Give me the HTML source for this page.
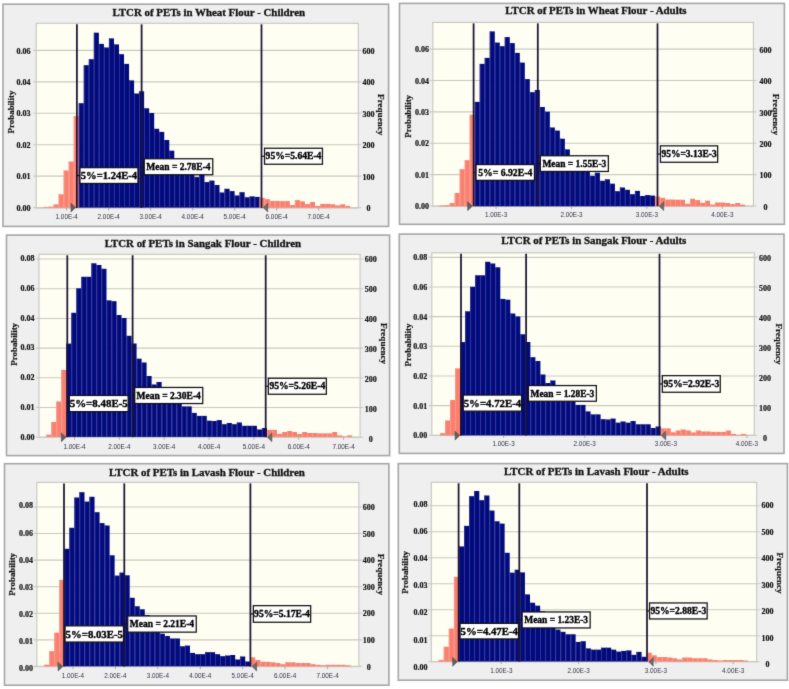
<!DOCTYPE html>
<html><head><meta charset="utf-8"><style>
html,body{margin:0;padding:0;background:#fff;width:789px;height:689px;overflow:hidden;font-family:"Liberation Sans",sans-serif;}
svg{display:block;}
#w{will-change:transform;width:789px;height:689px;}
</style></head><body><div id="w">
<svg width="789" height="689" viewBox="0 0 789 689">
<defs><filter id="bl" x="0" y="0" width="789" height="689" filterUnits="userSpaceOnUse" color-interpolation-filters="sRGB"><feConvolveMatrix order="3" kernelMatrix="0.0113 0.0838 0.0113 0.0838 0.6193 0.0838 0.0113 0.0838 0.0113" divisor="1" preserveAlpha="true" edgeMode="duplicate"/></filter></defs>
<g filter="url(#bl)">
<rect width="789" height="689" fill="#fff"/>
<rect x="3" y="4.2" width="385.6" height="222.2" fill="#efefef" stroke="#a6a6a6" stroke-width="1.6"/>
<text x="208.8" y="16.4" font-family="Liberation Serif" font-weight="bold" font-size="10.9" text-anchor="middle" fill="#111" stroke="#111" stroke-width="0.3">LTCR of PETs in Wheat Flour - Children</text>
<rect x="36.2" y="23.3" width="322.1" height="184.7" fill="#fefef2" stroke="#c6c6c2" stroke-width="1.1"/>
<line x1="33.2" y1="207.6" x2="361.3" y2="207.6" stroke="#c9c9bd" stroke-width="1.1"/>
<text x="30.4" y="210.7" font-family="Liberation Serif" font-weight="bold" font-size="8.0" text-anchor="end" fill="#151515" stroke="#151515" stroke-width="0.2">0.00</text>
<text x="368.6" y="211" font-family="Liberation Serif" font-weight="bold" font-size="8.0" text-anchor="middle" fill="#151515" stroke="#151515" stroke-width="0.2">0</text>
<line x1="33.2" y1="176.16" x2="361.3" y2="176.16" stroke="#c9c9bd" stroke-width="1.1"/>
<text x="30.4" y="179.26" font-family="Liberation Serif" font-weight="bold" font-size="8.0" text-anchor="end" fill="#151515" stroke="#151515" stroke-width="0.2">0.01</text>
<text x="368.6" y="179.56" font-family="Liberation Serif" font-weight="bold" font-size="8.0" text-anchor="middle" fill="#151515" stroke="#151515" stroke-width="0.2">100</text>
<line x1="33.2" y1="144.72" x2="361.3" y2="144.72" stroke="#c9c9bd" stroke-width="1.1"/>
<text x="30.4" y="147.82" font-family="Liberation Serif" font-weight="bold" font-size="8.0" text-anchor="end" fill="#151515" stroke="#151515" stroke-width="0.2">0.02</text>
<text x="368.6" y="148.12" font-family="Liberation Serif" font-weight="bold" font-size="8.0" text-anchor="middle" fill="#151515" stroke="#151515" stroke-width="0.2">200</text>
<line x1="33.2" y1="113.28" x2="361.3" y2="113.28" stroke="#c9c9bd" stroke-width="1.1"/>
<text x="30.4" y="116.38" font-family="Liberation Serif" font-weight="bold" font-size="8.0" text-anchor="end" fill="#151515" stroke="#151515" stroke-width="0.2">0.03</text>
<text x="368.6" y="116.68" font-family="Liberation Serif" font-weight="bold" font-size="8.0" text-anchor="middle" fill="#151515" stroke="#151515" stroke-width="0.2">300</text>
<line x1="33.2" y1="81.84" x2="361.3" y2="81.84" stroke="#c9c9bd" stroke-width="1.1"/>
<text x="30.4" y="84.94" font-family="Liberation Serif" font-weight="bold" font-size="8.0" text-anchor="end" fill="#151515" stroke="#151515" stroke-width="0.2">0.04</text>
<text x="368.6" y="85.24" font-family="Liberation Serif" font-weight="bold" font-size="8.0" text-anchor="middle" fill="#151515" stroke="#151515" stroke-width="0.2">400</text>
<line x1="33.2" y1="50.4" x2="361.3" y2="50.4" stroke="#c9c9bd" stroke-width="1.1"/>
<text x="30.4" y="53.5" font-family="Liberation Serif" font-weight="bold" font-size="8.0" text-anchor="end" fill="#151515" stroke="#151515" stroke-width="0.2">0.06</text>
<text x="368.6" y="53.8" font-family="Liberation Serif" font-weight="bold" font-size="8.0" text-anchor="middle" fill="#151515" stroke="#151515" stroke-width="0.2">600</text>
<text transform="translate(10.6,112) rotate(-90)" x="0" y="2.94" font-family="Liberation Serif" font-weight="bold" font-size="8.9" text-anchor="middle" fill="#151515" stroke="#151515" stroke-width="0.2">Probability</text>
<text transform="translate(380.9,114.7) rotate(90)" x="0" y="3" font-family="Liberation Serif" font-weight="bold" font-size="9.1" text-anchor="middle" fill="#151515" stroke="#151515" stroke-width="0.2">Frequency</text>
<rect x="43.6" y="206.9" width="5.03" height="0.7" fill="#fa7f6f"/>
<rect x="43.6" y="206.9" width="0.9" height="0.7" fill="#fb9a8a"/>
<rect x="48.63" y="206.6" width="5.03" height="1" fill="#fa7f6f"/>
<rect x="48.63" y="206.6" width="0.9" height="1" fill="#fb9a8a"/>
<rect x="53.65" y="204.4" width="5.03" height="3.2" fill="#fa7f6f"/>
<rect x="53.65" y="204.4" width="0.9" height="3.2" fill="#fb9a8a"/>
<rect x="58.68" y="194.3" width="5.03" height="13.3" fill="#fa7f6f"/>
<rect x="58.68" y="194.3" width="0.9" height="13.3" fill="#fb9a8a"/>
<rect x="63.7" y="170.5" width="5.03" height="37.1" fill="#fa7f6f"/>
<rect x="63.7" y="170.5" width="0.9" height="37.1" fill="#fb9a8a"/>
<rect x="68.73" y="161.5" width="5.03" height="46.1" fill="#fa7f6f"/>
<rect x="68.73" y="161.5" width="0.9" height="46.1" fill="#fb9a8a"/>
<rect x="73.76" y="116" width="5.03" height="91.6" fill="#fa7f6f"/>
<rect x="73.76" y="116" width="0.9" height="91.6" fill="#fb9a8a"/>
<rect x="78.78" y="103.2" width="5.03" height="104.4" fill="#000c7c"/>
<rect x="78.78" y="103.2" width="0.9" height="104.4" fill="#3a2e9e"/>
<rect x="83.81" y="65.2" width="5.03" height="142.4" fill="#000c7c"/>
<rect x="83.81" y="65.2" width="0.9" height="142.4" fill="#3a2e9e"/>
<rect x="88.83" y="59.2" width="5.03" height="148.4" fill="#000c7c"/>
<rect x="88.83" y="59.2" width="0.9" height="148.4" fill="#3a2e9e"/>
<rect x="93.86" y="32.7" width="5.03" height="174.9" fill="#000c7c"/>
<rect x="93.86" y="32.7" width="0.9" height="174.9" fill="#3a2e9e"/>
<rect x="98.89" y="43.9" width="5.03" height="163.7" fill="#000c7c"/>
<rect x="98.89" y="43.9" width="0.9" height="163.7" fill="#3a2e9e"/>
<rect x="103.91" y="47.5" width="5.03" height="160.1" fill="#000c7c"/>
<rect x="103.91" y="47.5" width="0.9" height="160.1" fill="#3a2e9e"/>
<rect x="108.94" y="38.4" width="5.03" height="169.2" fill="#000c7c"/>
<rect x="108.94" y="38.4" width="0.9" height="169.2" fill="#3a2e9e"/>
<rect x="113.96" y="44.4" width="5.03" height="163.2" fill="#000c7c"/>
<rect x="113.96" y="44.4" width="0.9" height="163.2" fill="#3a2e9e"/>
<rect x="118.99" y="54.2" width="5.03" height="153.4" fill="#000c7c"/>
<rect x="118.99" y="54.2" width="0.9" height="153.4" fill="#3a2e9e"/>
<rect x="124.02" y="63.9" width="5.03" height="143.7" fill="#000c7c"/>
<rect x="124.02" y="63.9" width="0.9" height="143.7" fill="#3a2e9e"/>
<rect x="129.04" y="80.4" width="5.03" height="127.2" fill="#000c7c"/>
<rect x="129.04" y="80.4" width="0.9" height="127.2" fill="#3a2e9e"/>
<rect x="134.07" y="93.5" width="5.03" height="114.1" fill="#000c7c"/>
<rect x="134.07" y="93.5" width="0.9" height="114.1" fill="#3a2e9e"/>
<rect x="139.09" y="91.3" width="5.03" height="116.3" fill="#000c7c"/>
<rect x="139.09" y="91.3" width="0.9" height="116.3" fill="#3a2e9e"/>
<rect x="144.12" y="108.3" width="5.03" height="99.3" fill="#000c7c"/>
<rect x="144.12" y="108.3" width="0.9" height="99.3" fill="#3a2e9e"/>
<rect x="149.15" y="113" width="5.03" height="94.6" fill="#000c7c"/>
<rect x="149.15" y="113" width="0.9" height="94.6" fill="#3a2e9e"/>
<rect x="154.17" y="128.8" width="5.03" height="78.8" fill="#000c7c"/>
<rect x="154.17" y="128.8" width="0.9" height="78.8" fill="#3a2e9e"/>
<rect x="159.2" y="131.9" width="5.03" height="75.7" fill="#000c7c"/>
<rect x="159.2" y="131.9" width="0.9" height="75.7" fill="#3a2e9e"/>
<rect x="164.22" y="140" width="5.03" height="67.6" fill="#000c7c"/>
<rect x="164.22" y="140" width="0.9" height="67.6" fill="#3a2e9e"/>
<rect x="169.25" y="150.7" width="5.03" height="56.9" fill="#000c7c"/>
<rect x="169.25" y="150.7" width="0.9" height="56.9" fill="#3a2e9e"/>
<rect x="174.28" y="160" width="5.03" height="47.6" fill="#000c7c"/>
<rect x="174.28" y="160" width="0.9" height="47.6" fill="#3a2e9e"/>
<rect x="179.3" y="163" width="5.03" height="44.6" fill="#000c7c"/>
<rect x="179.3" y="163" width="0.9" height="44.6" fill="#3a2e9e"/>
<rect x="184.33" y="166" width="5.03" height="41.6" fill="#000c7c"/>
<rect x="184.33" y="166" width="0.9" height="41.6" fill="#3a2e9e"/>
<rect x="189.35" y="170" width="5.03" height="37.6" fill="#000c7c"/>
<rect x="189.35" y="170" width="0.9" height="37.6" fill="#3a2e9e"/>
<rect x="194.38" y="177.1" width="5.03" height="30.5" fill="#000c7c"/>
<rect x="194.38" y="177.1" width="0.9" height="30.5" fill="#3a2e9e"/>
<rect x="199.41" y="174" width="5.03" height="33.6" fill="#000c7c"/>
<rect x="199.41" y="174" width="0.9" height="33.6" fill="#3a2e9e"/>
<rect x="204.43" y="182.1" width="5.03" height="25.5" fill="#000c7c"/>
<rect x="204.43" y="182.1" width="0.9" height="25.5" fill="#3a2e9e"/>
<rect x="209.46" y="180.6" width="5.03" height="27" fill="#000c7c"/>
<rect x="209.46" y="180.6" width="0.9" height="27" fill="#3a2e9e"/>
<rect x="214.48" y="185" width="5.03" height="22.6" fill="#000c7c"/>
<rect x="214.48" y="185" width="0.9" height="22.6" fill="#3a2e9e"/>
<rect x="219.51" y="192.5" width="5.03" height="15.1" fill="#000c7c"/>
<rect x="219.51" y="192.5" width="0.9" height="15.1" fill="#3a2e9e"/>
<rect x="224.54" y="188.8" width="5.03" height="18.8" fill="#000c7c"/>
<rect x="224.54" y="188.8" width="0.9" height="18.8" fill="#3a2e9e"/>
<rect x="229.56" y="191.1" width="5.03" height="16.5" fill="#000c7c"/>
<rect x="229.56" y="191.1" width="0.9" height="16.5" fill="#3a2e9e"/>
<rect x="234.59" y="195.5" width="5.03" height="12.1" fill="#000c7c"/>
<rect x="234.59" y="195.5" width="0.9" height="12.1" fill="#3a2e9e"/>
<rect x="239.61" y="192.2" width="5.03" height="15.4" fill="#000c7c"/>
<rect x="239.61" y="192.2" width="0.9" height="15.4" fill="#3a2e9e"/>
<rect x="244.64" y="197.3" width="5.03" height="10.3" fill="#000c7c"/>
<rect x="244.64" y="197.3" width="0.9" height="10.3" fill="#3a2e9e"/>
<rect x="249.67" y="196.4" width="5.03" height="11.2" fill="#000c7c"/>
<rect x="249.67" y="196.4" width="0.9" height="11.2" fill="#3a2e9e"/>
<rect x="254.69" y="196.9" width="5.03" height="10.7" fill="#000c7c"/>
<rect x="254.69" y="196.9" width="0.9" height="10.7" fill="#3a2e9e"/>
<rect x="259.72" y="197.9" width="5.03" height="9.7" fill="#fa7f6f"/>
<rect x="259.72" y="197.9" width="0.9" height="9.7" fill="#fb9a8a"/>
<rect x="264.74" y="199.1" width="5.03" height="8.5" fill="#fa7f6f"/>
<rect x="264.74" y="199.1" width="0.9" height="8.5" fill="#fb9a8a"/>
<rect x="269.77" y="200.9" width="5.03" height="6.7" fill="#fa7f6f"/>
<rect x="269.77" y="200.9" width="0.9" height="6.7" fill="#fb9a8a"/>
<rect x="274.8" y="200.9" width="5.03" height="6.7" fill="#fa7f6f"/>
<rect x="274.8" y="200.9" width="0.9" height="6.7" fill="#fb9a8a"/>
<rect x="279.82" y="201.1" width="5.03" height="6.5" fill="#fa7f6f"/>
<rect x="279.82" y="201.1" width="0.9" height="6.5" fill="#fb9a8a"/>
<rect x="284.85" y="201.1" width="5.03" height="6.5" fill="#fa7f6f"/>
<rect x="284.85" y="201.1" width="0.9" height="6.5" fill="#fb9a8a"/>
<rect x="289.87" y="205" width="5.03" height="2.6" fill="#fa7f6f"/>
<rect x="289.87" y="205" width="0.9" height="2.6" fill="#fb9a8a"/>
<rect x="294.9" y="200.1" width="5.03" height="7.5" fill="#fa7f6f"/>
<rect x="294.9" y="200.1" width="0.9" height="7.5" fill="#fb9a8a"/>
<rect x="299.93" y="201.4" width="5.03" height="6.2" fill="#fa7f6f"/>
<rect x="299.93" y="201.4" width="0.9" height="6.2" fill="#fb9a8a"/>
<rect x="304.95" y="204.1" width="5.03" height="3.5" fill="#fa7f6f"/>
<rect x="304.95" y="204.1" width="0.9" height="3.5" fill="#fb9a8a"/>
<rect x="309.98" y="202" width="5.03" height="5.6" fill="#fa7f6f"/>
<rect x="309.98" y="202" width="0.9" height="5.6" fill="#fb9a8a"/>
<rect x="315" y="205.9" width="5.03" height="1.7" fill="#fa7f6f"/>
<rect x="315" y="205.9" width="0.9" height="1.7" fill="#fb9a8a"/>
<rect x="320.03" y="203.9" width="5.03" height="3.7" fill="#fa7f6f"/>
<rect x="320.03" y="203.9" width="0.9" height="3.7" fill="#fb9a8a"/>
<rect x="325.06" y="203.9" width="5.03" height="3.7" fill="#fa7f6f"/>
<rect x="325.06" y="203.9" width="0.9" height="3.7" fill="#fb9a8a"/>
<rect x="330.08" y="204.3" width="5.03" height="3.3" fill="#fa7f6f"/>
<rect x="330.08" y="204.3" width="0.9" height="3.3" fill="#fb9a8a"/>
<rect x="335.11" y="205.4" width="5.03" height="2.2" fill="#fa7f6f"/>
<rect x="335.11" y="205.4" width="0.9" height="2.2" fill="#fb9a8a"/>
<rect x="340.13" y="204.3" width="5.03" height="3.3" fill="#fa7f6f"/>
<rect x="340.13" y="204.3" width="0.9" height="3.3" fill="#fb9a8a"/>
<rect x="345.16" y="205.9" width="5.03" height="1.7" fill="#fa7f6f"/>
<rect x="345.16" y="205.9" width="0.9" height="1.7" fill="#fb9a8a"/>
<line x1="66.7" y1="208" x2="66.7" y2="210.5" stroke="#999" stroke-width="0.8"/>
<text x="66.7" y="218.6" font-family="Liberation Sans" font-size="6.35" text-anchor="middle" fill="#34344c">1.00E-4</text>
<line x1="108.7" y1="208" x2="108.7" y2="210.5" stroke="#999" stroke-width="0.8"/>
<text x="108.7" y="218.6" font-family="Liberation Sans" font-size="6.35" text-anchor="middle" fill="#34344c">2.00E-4</text>
<line x1="150.7" y1="208" x2="150.7" y2="210.5" stroke="#999" stroke-width="0.8"/>
<text x="150.7" y="218.6" font-family="Liberation Sans" font-size="6.35" text-anchor="middle" fill="#34344c">3.00E-4</text>
<line x1="192.7" y1="208" x2="192.7" y2="210.5" stroke="#999" stroke-width="0.8"/>
<text x="192.7" y="218.6" font-family="Liberation Sans" font-size="6.35" text-anchor="middle" fill="#34344c">4.00E-4</text>
<line x1="234.7" y1="208" x2="234.7" y2="210.5" stroke="#999" stroke-width="0.8"/>
<text x="234.7" y="218.6" font-family="Liberation Sans" font-size="6.35" text-anchor="middle" fill="#34344c">5.00E-4</text>
<line x1="276.7" y1="208" x2="276.7" y2="210.5" stroke="#999" stroke-width="0.8"/>
<text x="276.7" y="218.6" font-family="Liberation Sans" font-size="6.35" text-anchor="middle" fill="#34344c">6.00E-4</text>
<line x1="318.7" y1="208" x2="318.7" y2="210.5" stroke="#999" stroke-width="0.8"/>
<text x="318.7" y="218.6" font-family="Liberation Sans" font-size="6.35" text-anchor="middle" fill="#34344c">7.00E-4</text>
<line x1="76.9" y1="24.3" x2="76.9" y2="208" stroke="#1c1434" stroke-width="1.75"/>
<line x1="141.6" y1="24.3" x2="141.6" y2="208" stroke="#1c1434" stroke-width="1.75"/>
<line x1="261.5" y1="24.3" x2="261.5" y2="208" stroke="#1c1434" stroke-width="1.75"/>
<path d="M71,203.25 L75.6,207.6 L71,211.95 Z" fill="#5e6266" stroke="#3c3f42" stroke-width="0.5"/>
<path d="M267.7,203.25 L263.3,207.6 L267.7,211.95 Z" fill="#6a6e72" stroke="#3c3f42" stroke-width="0.5"/>
<rect x="79.95" y="167.65" width="58" height="15.8" fill="#fff" stroke="#111" stroke-width="1.25"/>
<line x1="76.9" y1="175.55" x2="79.7" y2="175.55" stroke="#111" stroke-width="1.2"/>
<text x="108.95" y="179.05" font-family="Liberation Serif" font-weight="bold" font-size="10.6" text-anchor="middle" fill="#000" stroke="#000" stroke-width="0.35">5%=1.24E-4</text>
<rect x="144.25" y="158.75" width="68.5" height="16" fill="#fff" stroke="#111" stroke-width="1.25"/>
<line x1="141.6" y1="166.75" x2="144" y2="166.75" stroke="#111" stroke-width="1.2"/>
<text x="178.5" y="169.88" font-family="Liberation Serif" font-weight="bold" font-size="9.5" text-anchor="middle" fill="#000" stroke="#000" stroke-width="0.35">Mean = 2.78E-4</text>
<rect x="264.55" y="148.25" width="57.9" height="16" fill="#fff" stroke="#111" stroke-width="1.25"/>
<line x1="261.5" y1="156.25" x2="264.3" y2="156.25" stroke="#111" stroke-width="1.2"/>
<text x="293.5" y="159.42" font-family="Liberation Serif" font-weight="bold" font-size="9.6" text-anchor="middle" fill="#000" stroke="#000" stroke-width="0.35">95%=5.64E-4</text>
<rect x="399.5" y="3.4" width="384.9" height="220.9" fill="#efefef" stroke="#a6a6a6" stroke-width="1.6"/>
<text x="595.9" y="13.9" font-family="Liberation Serif" font-weight="bold" font-size="10.9" text-anchor="middle" fill="#111" stroke="#111" stroke-width="0.3">LTCR of PETs in Wheat Flour - Adults</text>
<rect x="432.8" y="22.4" width="320.6" height="183.8" fill="#fefef2" stroke="#c6c6c2" stroke-width="1.1"/>
<line x1="429.8" y1="205.95" x2="756.4" y2="205.95" stroke="#c9c9bd" stroke-width="1.1"/>
<text x="428.9" y="209.05" font-family="Liberation Serif" font-weight="bold" font-size="8.0" text-anchor="end" fill="#151515" stroke="#151515" stroke-width="0.2">0.00</text>
<text x="765.5" y="209.65" font-family="Liberation Serif" font-weight="bold" font-size="8.0" text-anchor="middle" fill="#151515" stroke="#151515" stroke-width="0.2">0</text>
<line x1="429.8" y1="174.58" x2="756.4" y2="174.58" stroke="#c9c9bd" stroke-width="1.1"/>
<text x="428.9" y="177.68" font-family="Liberation Serif" font-weight="bold" font-size="8.0" text-anchor="end" fill="#151515" stroke="#151515" stroke-width="0.2">0.01</text>
<text x="765.5" y="178.28" font-family="Liberation Serif" font-weight="bold" font-size="8.0" text-anchor="middle" fill="#151515" stroke="#151515" stroke-width="0.2">100</text>
<line x1="429.8" y1="143.21" x2="756.4" y2="143.21" stroke="#c9c9bd" stroke-width="1.1"/>
<text x="428.9" y="146.31" font-family="Liberation Serif" font-weight="bold" font-size="8.0" text-anchor="end" fill="#151515" stroke="#151515" stroke-width="0.2">0.02</text>
<text x="765.5" y="146.91" font-family="Liberation Serif" font-weight="bold" font-size="8.0" text-anchor="middle" fill="#151515" stroke="#151515" stroke-width="0.2">200</text>
<line x1="429.8" y1="111.84" x2="756.4" y2="111.84" stroke="#c9c9bd" stroke-width="1.1"/>
<text x="428.9" y="114.94" font-family="Liberation Serif" font-weight="bold" font-size="8.0" text-anchor="end" fill="#151515" stroke="#151515" stroke-width="0.2">0.03</text>
<text x="765.5" y="115.54" font-family="Liberation Serif" font-weight="bold" font-size="8.0" text-anchor="middle" fill="#151515" stroke="#151515" stroke-width="0.2">300</text>
<line x1="429.8" y1="80.47" x2="756.4" y2="80.47" stroke="#c9c9bd" stroke-width="1.1"/>
<text x="428.9" y="83.57" font-family="Liberation Serif" font-weight="bold" font-size="8.0" text-anchor="end" fill="#151515" stroke="#151515" stroke-width="0.2">0.04</text>
<text x="765.5" y="84.17" font-family="Liberation Serif" font-weight="bold" font-size="8.0" text-anchor="middle" fill="#151515" stroke="#151515" stroke-width="0.2">400</text>
<line x1="429.8" y1="49.1" x2="756.4" y2="49.1" stroke="#c9c9bd" stroke-width="1.1"/>
<text x="428.9" y="52.2" font-family="Liberation Serif" font-weight="bold" font-size="8.0" text-anchor="end" fill="#151515" stroke="#151515" stroke-width="0.2">0.06</text>
<text x="765.5" y="52.8" font-family="Liberation Serif" font-weight="bold" font-size="8.0" text-anchor="middle" fill="#151515" stroke="#151515" stroke-width="0.2">600</text>
<text transform="translate(408.4,116.3) rotate(-90)" x="0" y="2.94" font-family="Liberation Serif" font-weight="bold" font-size="8.9" text-anchor="middle" fill="#151515" stroke="#151515" stroke-width="0.2">Probability</text>
<text transform="translate(776.3,114.3) rotate(90)" x="0" y="3" font-family="Liberation Serif" font-weight="bold" font-size="9.1" text-anchor="middle" fill="#151515" stroke="#151515" stroke-width="0.2">Frequency</text>
<rect x="439.7" y="205.6" width="5.01" height="0.7" fill="#fa7f6f"/>
<rect x="439.7" y="205.6" width="0.9" height="0.7" fill="#fb9a8a"/>
<rect x="444.71" y="205.3" width="5.01" height="1" fill="#fa7f6f"/>
<rect x="444.71" y="205.3" width="0.9" height="1" fill="#fb9a8a"/>
<rect x="449.71" y="203.1" width="5.01" height="3.2" fill="#fa7f6f"/>
<rect x="449.71" y="203.1" width="0.9" height="3.2" fill="#fb9a8a"/>
<rect x="454.72" y="193" width="5.01" height="13.3" fill="#fa7f6f"/>
<rect x="454.72" y="193" width="0.9" height="13.3" fill="#fb9a8a"/>
<rect x="459.72" y="169.2" width="5.01" height="37.1" fill="#fa7f6f"/>
<rect x="459.72" y="169.2" width="0.9" height="37.1" fill="#fb9a8a"/>
<rect x="464.73" y="160.2" width="5.01" height="46.1" fill="#fa7f6f"/>
<rect x="464.73" y="160.2" width="0.9" height="46.1" fill="#fb9a8a"/>
<rect x="469.74" y="114.7" width="5.01" height="91.6" fill="#fa7f6f"/>
<rect x="469.74" y="114.7" width="0.9" height="91.6" fill="#fb9a8a"/>
<rect x="474.74" y="101.9" width="5.01" height="104.4" fill="#000c7c"/>
<rect x="474.74" y="101.9" width="0.9" height="104.4" fill="#3a2e9e"/>
<rect x="479.75" y="63.9" width="5.01" height="142.4" fill="#000c7c"/>
<rect x="479.75" y="63.9" width="0.9" height="142.4" fill="#3a2e9e"/>
<rect x="484.75" y="57.9" width="5.01" height="148.4" fill="#000c7c"/>
<rect x="484.75" y="57.9" width="0.9" height="148.4" fill="#3a2e9e"/>
<rect x="489.76" y="31.4" width="5.01" height="174.9" fill="#000c7c"/>
<rect x="489.76" y="31.4" width="0.9" height="174.9" fill="#3a2e9e"/>
<rect x="494.77" y="42.6" width="5.01" height="163.7" fill="#000c7c"/>
<rect x="494.77" y="42.6" width="0.9" height="163.7" fill="#3a2e9e"/>
<rect x="499.77" y="46.2" width="5.01" height="160.1" fill="#000c7c"/>
<rect x="499.77" y="46.2" width="0.9" height="160.1" fill="#3a2e9e"/>
<rect x="504.78" y="37.1" width="5.01" height="169.2" fill="#000c7c"/>
<rect x="504.78" y="37.1" width="0.9" height="169.2" fill="#3a2e9e"/>
<rect x="509.78" y="43.1" width="5.01" height="163.2" fill="#000c7c"/>
<rect x="509.78" y="43.1" width="0.9" height="163.2" fill="#3a2e9e"/>
<rect x="514.79" y="52.9" width="5.01" height="153.4" fill="#000c7c"/>
<rect x="514.79" y="52.9" width="0.9" height="153.4" fill="#3a2e9e"/>
<rect x="519.8" y="62.6" width="5.01" height="143.7" fill="#000c7c"/>
<rect x="519.8" y="62.6" width="0.9" height="143.7" fill="#3a2e9e"/>
<rect x="524.8" y="79.1" width="5.01" height="127.2" fill="#000c7c"/>
<rect x="524.8" y="79.1" width="0.9" height="127.2" fill="#3a2e9e"/>
<rect x="529.81" y="92.2" width="5.01" height="114.1" fill="#000c7c"/>
<rect x="529.81" y="92.2" width="0.9" height="114.1" fill="#3a2e9e"/>
<rect x="534.81" y="90" width="5.01" height="116.3" fill="#000c7c"/>
<rect x="534.81" y="90" width="0.9" height="116.3" fill="#3a2e9e"/>
<rect x="539.82" y="107" width="5.01" height="99.3" fill="#000c7c"/>
<rect x="539.82" y="107" width="0.9" height="99.3" fill="#3a2e9e"/>
<rect x="544.83" y="111.7" width="5.01" height="94.6" fill="#000c7c"/>
<rect x="544.83" y="111.7" width="0.9" height="94.6" fill="#3a2e9e"/>
<rect x="549.83" y="127.5" width="5.01" height="78.8" fill="#000c7c"/>
<rect x="549.83" y="127.5" width="0.9" height="78.8" fill="#3a2e9e"/>
<rect x="554.84" y="130.6" width="5.01" height="75.7" fill="#000c7c"/>
<rect x="554.84" y="130.6" width="0.9" height="75.7" fill="#3a2e9e"/>
<rect x="559.84" y="138.7" width="5.01" height="67.6" fill="#000c7c"/>
<rect x="559.84" y="138.7" width="0.9" height="67.6" fill="#3a2e9e"/>
<rect x="564.85" y="149.4" width="5.01" height="56.9" fill="#000c7c"/>
<rect x="564.85" y="149.4" width="0.9" height="56.9" fill="#3a2e9e"/>
<rect x="569.86" y="158.7" width="5.01" height="47.6" fill="#000c7c"/>
<rect x="569.86" y="158.7" width="0.9" height="47.6" fill="#3a2e9e"/>
<rect x="574.86" y="161.7" width="5.01" height="44.6" fill="#000c7c"/>
<rect x="574.86" y="161.7" width="0.9" height="44.6" fill="#3a2e9e"/>
<rect x="579.87" y="164.7" width="5.01" height="41.6" fill="#000c7c"/>
<rect x="579.87" y="164.7" width="0.9" height="41.6" fill="#3a2e9e"/>
<rect x="584.87" y="168.7" width="5.01" height="37.6" fill="#000c7c"/>
<rect x="584.87" y="168.7" width="0.9" height="37.6" fill="#3a2e9e"/>
<rect x="589.88" y="175.8" width="5.01" height="30.5" fill="#000c7c"/>
<rect x="589.88" y="175.8" width="0.9" height="30.5" fill="#3a2e9e"/>
<rect x="594.89" y="172.7" width="5.01" height="33.6" fill="#000c7c"/>
<rect x="594.89" y="172.7" width="0.9" height="33.6" fill="#3a2e9e"/>
<rect x="599.89" y="180.8" width="5.01" height="25.5" fill="#000c7c"/>
<rect x="599.89" y="180.8" width="0.9" height="25.5" fill="#3a2e9e"/>
<rect x="604.9" y="179.3" width="5.01" height="27" fill="#000c7c"/>
<rect x="604.9" y="179.3" width="0.9" height="27" fill="#3a2e9e"/>
<rect x="609.9" y="183.7" width="5.01" height="22.6" fill="#000c7c"/>
<rect x="609.9" y="183.7" width="0.9" height="22.6" fill="#3a2e9e"/>
<rect x="614.91" y="191.2" width="5.01" height="15.1" fill="#000c7c"/>
<rect x="614.91" y="191.2" width="0.9" height="15.1" fill="#3a2e9e"/>
<rect x="619.92" y="187.5" width="5.01" height="18.8" fill="#000c7c"/>
<rect x="619.92" y="187.5" width="0.9" height="18.8" fill="#3a2e9e"/>
<rect x="624.92" y="189.8" width="5.01" height="16.5" fill="#000c7c"/>
<rect x="624.92" y="189.8" width="0.9" height="16.5" fill="#3a2e9e"/>
<rect x="629.93" y="194.2" width="5.01" height="12.1" fill="#000c7c"/>
<rect x="629.93" y="194.2" width="0.9" height="12.1" fill="#3a2e9e"/>
<rect x="634.93" y="190.9" width="5.01" height="15.4" fill="#000c7c"/>
<rect x="634.93" y="190.9" width="0.9" height="15.4" fill="#3a2e9e"/>
<rect x="639.94" y="196" width="5.01" height="10.3" fill="#000c7c"/>
<rect x="639.94" y="196" width="0.9" height="10.3" fill="#3a2e9e"/>
<rect x="644.95" y="195.1" width="5.01" height="11.2" fill="#000c7c"/>
<rect x="644.95" y="195.1" width="0.9" height="11.2" fill="#3a2e9e"/>
<rect x="649.95" y="195.6" width="5.01" height="10.7" fill="#000c7c"/>
<rect x="649.95" y="195.6" width="0.9" height="10.7" fill="#3a2e9e"/>
<rect x="654.96" y="196.6" width="5.01" height="9.7" fill="#fa7f6f"/>
<rect x="654.96" y="196.6" width="0.9" height="9.7" fill="#fb9a8a"/>
<rect x="659.96" y="197.8" width="5.01" height="8.5" fill="#fa7f6f"/>
<rect x="659.96" y="197.8" width="0.9" height="8.5" fill="#fb9a8a"/>
<rect x="664.97" y="199.6" width="5.01" height="6.7" fill="#fa7f6f"/>
<rect x="664.97" y="199.6" width="0.9" height="6.7" fill="#fb9a8a"/>
<rect x="669.98" y="199.6" width="5.01" height="6.7" fill="#fa7f6f"/>
<rect x="669.98" y="199.6" width="0.9" height="6.7" fill="#fb9a8a"/>
<rect x="674.98" y="199.8" width="5.01" height="6.5" fill="#fa7f6f"/>
<rect x="674.98" y="199.8" width="0.9" height="6.5" fill="#fb9a8a"/>
<rect x="679.99" y="199.8" width="5.01" height="6.5" fill="#fa7f6f"/>
<rect x="679.99" y="199.8" width="0.9" height="6.5" fill="#fb9a8a"/>
<rect x="684.99" y="203.7" width="5.01" height="2.6" fill="#fa7f6f"/>
<rect x="684.99" y="203.7" width="0.9" height="2.6" fill="#fb9a8a"/>
<rect x="690" y="198.8" width="5.01" height="7.5" fill="#fa7f6f"/>
<rect x="690" y="198.8" width="0.9" height="7.5" fill="#fb9a8a"/>
<rect x="695.01" y="200.1" width="5.01" height="6.2" fill="#fa7f6f"/>
<rect x="695.01" y="200.1" width="0.9" height="6.2" fill="#fb9a8a"/>
<rect x="700.01" y="202.8" width="5.01" height="3.5" fill="#fa7f6f"/>
<rect x="700.01" y="202.8" width="0.9" height="3.5" fill="#fb9a8a"/>
<rect x="705.02" y="200.7" width="5.01" height="5.6" fill="#fa7f6f"/>
<rect x="705.02" y="200.7" width="0.9" height="5.6" fill="#fb9a8a"/>
<rect x="710.02" y="204.6" width="5.01" height="1.7" fill="#fa7f6f"/>
<rect x="710.02" y="204.6" width="0.9" height="1.7" fill="#fb9a8a"/>
<rect x="715.03" y="202.6" width="5.01" height="3.7" fill="#fa7f6f"/>
<rect x="715.03" y="202.6" width="0.9" height="3.7" fill="#fb9a8a"/>
<rect x="720.04" y="202.6" width="5.01" height="3.7" fill="#fa7f6f"/>
<rect x="720.04" y="202.6" width="0.9" height="3.7" fill="#fb9a8a"/>
<rect x="725.04" y="203" width="5.01" height="3.3" fill="#fa7f6f"/>
<rect x="725.04" y="203" width="0.9" height="3.3" fill="#fb9a8a"/>
<rect x="730.05" y="204.1" width="5.01" height="2.2" fill="#fa7f6f"/>
<rect x="730.05" y="204.1" width="0.9" height="2.2" fill="#fb9a8a"/>
<rect x="735.05" y="203" width="5.01" height="3.3" fill="#fa7f6f"/>
<rect x="735.05" y="203" width="0.9" height="3.3" fill="#fb9a8a"/>
<rect x="740.06" y="204.6" width="5.01" height="1.7" fill="#fa7f6f"/>
<rect x="740.06" y="204.6" width="0.9" height="1.7" fill="#fb9a8a"/>
<line x1="496.1" y1="206.2" x2="496.1" y2="208.7" stroke="#999" stroke-width="0.8"/>
<text x="496.1" y="217.4" font-family="Liberation Sans" font-size="6.35" text-anchor="middle" fill="#34344c">1.00E-3</text>
<line x1="571.5" y1="206.2" x2="571.5" y2="208.7" stroke="#999" stroke-width="0.8"/>
<text x="571.5" y="217.4" font-family="Liberation Sans" font-size="6.35" text-anchor="middle" fill="#34344c">2.00E-3</text>
<line x1="646.9" y1="206.2" x2="646.9" y2="208.7" stroke="#999" stroke-width="0.8"/>
<text x="646.9" y="217.4" font-family="Liberation Sans" font-size="6.35" text-anchor="middle" fill="#34344c">3.00E-3</text>
<line x1="722.3" y1="206.2" x2="722.3" y2="208.7" stroke="#999" stroke-width="0.8"/>
<text x="722.3" y="217.4" font-family="Liberation Sans" font-size="6.35" text-anchor="middle" fill="#34344c">4.00E-3</text>
<line x1="473.6" y1="23.4" x2="473.6" y2="206.2" stroke="#1c1434" stroke-width="1.75"/>
<line x1="537.8" y1="23.4" x2="537.8" y2="206.2" stroke="#1c1434" stroke-width="1.75"/>
<line x1="657.5" y1="23.4" x2="657.5" y2="206.2" stroke="#1c1434" stroke-width="1.75"/>
<path d="M467.7,201.85 L472.3,206.2 L467.7,210.55 Z" fill="#5e6266" stroke="#3c3f42" stroke-width="0.5"/>
<path d="M663.7,201.85 L659.3,206.2 L663.7,210.55 Z" fill="#6a6e72" stroke="#3c3f42" stroke-width="0.5"/>
<rect x="476.05" y="164.55" width="58.4" height="15.8" fill="#fff" stroke="#111" stroke-width="1.25"/>
<line x1="473.6" y1="172.45" x2="475.8" y2="172.45" stroke="#111" stroke-width="1.2"/>
<text x="505.25" y="175.65" font-family="Liberation Serif" font-weight="bold" font-size="9.7" text-anchor="middle" fill="#000" stroke="#000" stroke-width="0.35">5%= 6.92E-4</text>
<rect x="540.35" y="155.75" width="68" height="15.7" fill="#fff" stroke="#111" stroke-width="1.25"/>
<line x1="537.8" y1="163.6" x2="540.1" y2="163.6" stroke="#111" stroke-width="1.2"/>
<text x="574.35" y="166.72" font-family="Liberation Serif" font-weight="bold" font-size="9.45" text-anchor="middle" fill="#000" stroke="#000" stroke-width="0.35">Mean = 1.55E-3</text>
<rect x="660.45" y="145.85" width="57.2" height="16.4" fill="#fff" stroke="#111" stroke-width="1.25"/>
<line x1="657.5" y1="154.05" x2="660.2" y2="154.05" stroke="#111" stroke-width="1.2"/>
<text x="689.05" y="157.19" font-family="Liberation Serif" font-weight="bold" font-size="9.5" text-anchor="middle" fill="#000" stroke="#000" stroke-width="0.35">95%=3.13E-3</text>
<rect x="6.5" y="235.1" width="383.1" height="220.5" fill="#efefef" stroke="#a6a6a6" stroke-width="1.6"/>
<text x="202.9" y="246.7" font-family="Liberation Serif" font-weight="bold" font-size="10.9" text-anchor="middle" fill="#111" stroke="#111" stroke-width="0.3">LTCR of PETs in Sangak Flour - Children</text>
<rect x="39" y="254.3" width="321.1" height="182.9" fill="#fefef2" stroke="#c6c6c2" stroke-width="1.1"/>
<line x1="36" y1="437.2" x2="363.1" y2="437.2" stroke="#c9c9bd" stroke-width="1.1"/>
<text x="34.5" y="439.7" font-family="Liberation Serif" font-weight="bold" font-size="8.0" text-anchor="end" fill="#151515" stroke="#151515" stroke-width="0.2">0.00</text>
<text x="370.7" y="442.3" font-family="Liberation Serif" font-weight="bold" font-size="8.0" text-anchor="middle" fill="#151515" stroke="#151515" stroke-width="0.2">0</text>
<line x1="36" y1="407.51" x2="363.1" y2="407.51" stroke="#c9c9bd" stroke-width="1.1"/>
<text x="34.5" y="409.95" font-family="Liberation Serif" font-weight="bold" font-size="8.0" text-anchor="end" fill="#151515" stroke="#151515" stroke-width="0.2">0.01</text>
<text x="370.7" y="412.3" font-family="Liberation Serif" font-weight="bold" font-size="8.0" text-anchor="middle" fill="#151515" stroke="#151515" stroke-width="0.2">100</text>
<line x1="36" y1="377.82" x2="363.1" y2="377.82" stroke="#c9c9bd" stroke-width="1.1"/>
<text x="34.5" y="380.2" font-family="Liberation Serif" font-weight="bold" font-size="8.0" text-anchor="end" fill="#151515" stroke="#151515" stroke-width="0.2">0.02</text>
<text x="370.7" y="382.3" font-family="Liberation Serif" font-weight="bold" font-size="8.0" text-anchor="middle" fill="#151515" stroke="#151515" stroke-width="0.2">200</text>
<line x1="36" y1="348.13" x2="363.1" y2="348.13" stroke="#c9c9bd" stroke-width="1.1"/>
<text x="34.5" y="350.45" font-family="Liberation Serif" font-weight="bold" font-size="8.0" text-anchor="end" fill="#151515" stroke="#151515" stroke-width="0.2">0.03</text>
<text x="370.7" y="352.3" font-family="Liberation Serif" font-weight="bold" font-size="8.0" text-anchor="middle" fill="#151515" stroke="#151515" stroke-width="0.2">300</text>
<line x1="36" y1="318.44" x2="363.1" y2="318.44" stroke="#c9c9bd" stroke-width="1.1"/>
<text x="34.5" y="320.7" font-family="Liberation Serif" font-weight="bold" font-size="8.0" text-anchor="end" fill="#151515" stroke="#151515" stroke-width="0.2">0.04</text>
<text x="370.7" y="322.3" font-family="Liberation Serif" font-weight="bold" font-size="8.0" text-anchor="middle" fill="#151515" stroke="#151515" stroke-width="0.2">400</text>
<line x1="36" y1="288.75" x2="363.1" y2="288.75" stroke="#c9c9bd" stroke-width="1.1"/>
<text x="34.5" y="290.95" font-family="Liberation Serif" font-weight="bold" font-size="8.0" text-anchor="end" fill="#151515" stroke="#151515" stroke-width="0.2">0.06</text>
<text x="370.7" y="292.3" font-family="Liberation Serif" font-weight="bold" font-size="8.0" text-anchor="middle" fill="#151515" stroke="#151515" stroke-width="0.2">500</text>
<line x1="36" y1="259.06" x2="363.1" y2="259.06" stroke="#c9c9bd" stroke-width="1.1"/>
<text x="34.5" y="261.2" font-family="Liberation Serif" font-weight="bold" font-size="8.0" text-anchor="end" fill="#151515" stroke="#151515" stroke-width="0.2">0.08</text>
<text x="370.7" y="262.3" font-family="Liberation Serif" font-weight="bold" font-size="8.0" text-anchor="middle" fill="#151515" stroke="#151515" stroke-width="0.2">600</text>
<text transform="translate(14.2,344.3) rotate(-90)" x="0" y="2.94" font-family="Liberation Serif" font-weight="bold" font-size="8.9" text-anchor="middle" fill="#151515" stroke="#151515" stroke-width="0.2">Probability</text>
<text transform="translate(383.9,343.5) rotate(90)" x="0" y="3" font-family="Liberation Serif" font-weight="bold" font-size="9.1" text-anchor="middle" fill="#151515" stroke="#151515" stroke-width="0.2">Frequency</text>
<rect x="46.3" y="434.7" width="5.02" height="2.2" fill="#fa7f6f"/>
<rect x="46.3" y="434.7" width="0.9" height="2.2" fill="#fb9a8a"/>
<rect x="51.31" y="422" width="5.02" height="14.9" fill="#fa7f6f"/>
<rect x="51.31" y="422" width="0.9" height="14.9" fill="#fb9a8a"/>
<rect x="56.33" y="401.5" width="5.02" height="35.4" fill="#fa7f6f"/>
<rect x="56.33" y="401.5" width="0.9" height="35.4" fill="#fb9a8a"/>
<rect x="61.34" y="369.9" width="5.02" height="67" fill="#fa7f6f"/>
<rect x="61.34" y="369.9" width="0.9" height="67" fill="#fb9a8a"/>
<rect x="66.36" y="343.6" width="5.02" height="93.3" fill="#000c7c"/>
<rect x="66.36" y="343.6" width="0.9" height="93.3" fill="#3a2e9e"/>
<rect x="71.38" y="312.8" width="5.02" height="124.1" fill="#000c7c"/>
<rect x="71.38" y="312.8" width="0.9" height="124.1" fill="#3a2e9e"/>
<rect x="76.39" y="288.3" width="5.02" height="148.6" fill="#000c7c"/>
<rect x="76.39" y="288.3" width="0.9" height="148.6" fill="#3a2e9e"/>
<rect x="81.41" y="276.8" width="5.02" height="160.1" fill="#000c7c"/>
<rect x="81.41" y="276.8" width="0.9" height="160.1" fill="#3a2e9e"/>
<rect x="86.42" y="276.8" width="5.02" height="160.1" fill="#000c7c"/>
<rect x="86.42" y="276.8" width="0.9" height="160.1" fill="#3a2e9e"/>
<rect x="91.44" y="263.3" width="5.02" height="173.6" fill="#000c7c"/>
<rect x="91.44" y="263.3" width="0.9" height="173.6" fill="#3a2e9e"/>
<rect x="96.45" y="265" width="5.02" height="171.9" fill="#000c7c"/>
<rect x="96.45" y="265" width="0.9" height="171.9" fill="#3a2e9e"/>
<rect x="101.47" y="268.8" width="5.02" height="168.1" fill="#000c7c"/>
<rect x="101.47" y="268.8" width="0.9" height="168.1" fill="#3a2e9e"/>
<rect x="106.48" y="300.4" width="5.02" height="136.5" fill="#000c7c"/>
<rect x="106.48" y="300.4" width="0.9" height="136.5" fill="#3a2e9e"/>
<rect x="111.49" y="301.2" width="5.02" height="135.7" fill="#000c7c"/>
<rect x="111.49" y="301.2" width="0.9" height="135.7" fill="#3a2e9e"/>
<rect x="116.51" y="315" width="5.02" height="121.9" fill="#000c7c"/>
<rect x="116.51" y="315" width="0.9" height="121.9" fill="#3a2e9e"/>
<rect x="121.52" y="318" width="5.02" height="118.9" fill="#000c7c"/>
<rect x="121.52" y="318" width="0.9" height="118.9" fill="#3a2e9e"/>
<rect x="126.54" y="335.8" width="5.01" height="101.1" fill="#000c7c"/>
<rect x="126.54" y="335.8" width="0.9" height="101.1" fill="#3a2e9e"/>
<rect x="131.56" y="343.5" width="5.01" height="93.4" fill="#000c7c"/>
<rect x="131.56" y="343.5" width="0.9" height="93.4" fill="#3a2e9e"/>
<rect x="136.57" y="358.7" width="5.01" height="78.2" fill="#000c7c"/>
<rect x="136.57" y="358.7" width="0.9" height="78.2" fill="#3a2e9e"/>
<rect x="141.58" y="362.5" width="5.01" height="74.4" fill="#000c7c"/>
<rect x="141.58" y="362.5" width="0.9" height="74.4" fill="#3a2e9e"/>
<rect x="146.6" y="376" width="5.01" height="60.9" fill="#000c7c"/>
<rect x="146.6" y="376" width="0.9" height="60.9" fill="#3a2e9e"/>
<rect x="151.62" y="384.5" width="5.01" height="52.4" fill="#000c7c"/>
<rect x="151.62" y="384.5" width="0.9" height="52.4" fill="#3a2e9e"/>
<rect x="156.63" y="382" width="5.01" height="54.9" fill="#000c7c"/>
<rect x="156.63" y="382" width="0.9" height="54.9" fill="#3a2e9e"/>
<rect x="161.64" y="387.5" width="5.01" height="49.4" fill="#000c7c"/>
<rect x="161.64" y="387.5" width="0.9" height="49.4" fill="#3a2e9e"/>
<rect x="166.66" y="392" width="5.01" height="44.9" fill="#000c7c"/>
<rect x="166.66" y="392" width="0.9" height="44.9" fill="#3a2e9e"/>
<rect x="171.67" y="397" width="5.01" height="39.9" fill="#000c7c"/>
<rect x="171.67" y="397" width="0.9" height="39.9" fill="#3a2e9e"/>
<rect x="176.69" y="401" width="5.01" height="35.9" fill="#000c7c"/>
<rect x="176.69" y="401" width="0.9" height="35.9" fill="#3a2e9e"/>
<rect x="181.7" y="406.4" width="5.01" height="30.5" fill="#000c7c"/>
<rect x="181.7" y="406.4" width="0.9" height="30.5" fill="#3a2e9e"/>
<rect x="186.72" y="406.4" width="5.01" height="30.5" fill="#000c7c"/>
<rect x="186.72" y="406.4" width="0.9" height="30.5" fill="#3a2e9e"/>
<rect x="191.74" y="412.9" width="5.01" height="24" fill="#000c7c"/>
<rect x="191.74" y="412.9" width="0.9" height="24" fill="#3a2e9e"/>
<rect x="196.75" y="415.9" width="5.01" height="21" fill="#000c7c"/>
<rect x="196.75" y="415.9" width="0.9" height="21" fill="#3a2e9e"/>
<rect x="201.76" y="415.9" width="5.01" height="21" fill="#000c7c"/>
<rect x="201.76" y="415.9" width="0.9" height="21" fill="#3a2e9e"/>
<rect x="206.78" y="420.7" width="5.01" height="16.2" fill="#000c7c"/>
<rect x="206.78" y="420.7" width="0.9" height="16.2" fill="#3a2e9e"/>
<rect x="211.79" y="421" width="5.01" height="15.9" fill="#000c7c"/>
<rect x="211.79" y="421" width="0.9" height="15.9" fill="#3a2e9e"/>
<rect x="216.81" y="420.1" width="5.01" height="16.8" fill="#000c7c"/>
<rect x="216.81" y="420.1" width="0.9" height="16.8" fill="#3a2e9e"/>
<rect x="221.82" y="424.2" width="5.01" height="12.7" fill="#000c7c"/>
<rect x="221.82" y="424.2" width="0.9" height="12.7" fill="#3a2e9e"/>
<rect x="226.84" y="423" width="5.01" height="13.9" fill="#000c7c"/>
<rect x="226.84" y="423" width="0.9" height="13.9" fill="#3a2e9e"/>
<rect x="231.85" y="424.2" width="5.01" height="12.7" fill="#000c7c"/>
<rect x="231.85" y="424.2" width="0.9" height="12.7" fill="#3a2e9e"/>
<rect x="236.87" y="422.5" width="5.01" height="14.4" fill="#000c7c"/>
<rect x="236.87" y="422.5" width="0.9" height="14.4" fill="#3a2e9e"/>
<rect x="241.88" y="425.8" width="5.01" height="11.1" fill="#000c7c"/>
<rect x="241.88" y="425.8" width="0.9" height="11.1" fill="#3a2e9e"/>
<rect x="246.9" y="425.8" width="5.01" height="11.1" fill="#000c7c"/>
<rect x="246.9" y="425.8" width="0.9" height="11.1" fill="#3a2e9e"/>
<rect x="251.91" y="425.8" width="5.01" height="11.1" fill="#000c7c"/>
<rect x="251.91" y="425.8" width="0.9" height="11.1" fill="#3a2e9e"/>
<rect x="256.93" y="429.5" width="5.01" height="7.4" fill="#000c7c"/>
<rect x="256.93" y="429.5" width="0.9" height="7.4" fill="#3a2e9e"/>
<rect x="261.94" y="428" width="5.01" height="8.9" fill="#000c7c"/>
<rect x="261.94" y="428" width="0.9" height="8.9" fill="#3a2e9e"/>
<rect x="266.96" y="429.9" width="5.01" height="7" fill="#fa7f6f"/>
<rect x="266.96" y="429.9" width="0.9" height="7" fill="#fb9a8a"/>
<rect x="271.97" y="429.9" width="5.01" height="7" fill="#fa7f6f"/>
<rect x="271.97" y="429.9" width="0.9" height="7" fill="#fb9a8a"/>
<rect x="276.99" y="433.8" width="5.01" height="3.1" fill="#fa7f6f"/>
<rect x="276.99" y="433.8" width="0.9" height="3.1" fill="#fb9a8a"/>
<rect x="282" y="432" width="5.01" height="4.9" fill="#fa7f6f"/>
<rect x="282" y="432" width="0.9" height="4.9" fill="#fb9a8a"/>
<rect x="287.02" y="431" width="5.01" height="5.9" fill="#fa7f6f"/>
<rect x="287.02" y="431" width="0.9" height="5.9" fill="#fb9a8a"/>
<rect x="292.03" y="432" width="5.01" height="4.9" fill="#fa7f6f"/>
<rect x="292.03" y="432" width="0.9" height="4.9" fill="#fb9a8a"/>
<rect x="297.05" y="434" width="5.01" height="2.9" fill="#fa7f6f"/>
<rect x="297.05" y="434" width="0.9" height="2.9" fill="#fb9a8a"/>
<rect x="302.06" y="432" width="5.01" height="4.9" fill="#fa7f6f"/>
<rect x="302.06" y="432" width="0.9" height="4.9" fill="#fb9a8a"/>
<rect x="307.08" y="433" width="5.01" height="3.9" fill="#fa7f6f"/>
<rect x="307.08" y="433" width="0.9" height="3.9" fill="#fb9a8a"/>
<rect x="312.09" y="433" width="5.01" height="3.9" fill="#fa7f6f"/>
<rect x="312.09" y="433" width="0.9" height="3.9" fill="#fb9a8a"/>
<rect x="317.11" y="433.4" width="5.01" height="3.5" fill="#fa7f6f"/>
<rect x="317.11" y="433.4" width="0.9" height="3.5" fill="#fb9a8a"/>
<rect x="322.12" y="433.4" width="5.01" height="3.5" fill="#fa7f6f"/>
<rect x="322.12" y="433.4" width="0.9" height="3.5" fill="#fb9a8a"/>
<rect x="327.14" y="433.4" width="5.01" height="3.5" fill="#fa7f6f"/>
<rect x="327.14" y="433.4" width="0.9" height="3.5" fill="#fb9a8a"/>
<rect x="332.15" y="432" width="5.01" height="4.9" fill="#fa7f6f"/>
<rect x="332.15" y="432" width="0.9" height="4.9" fill="#fb9a8a"/>
<rect x="337.17" y="435.4" width="5.01" height="1.5" fill="#fa7f6f"/>
<rect x="337.17" y="435.4" width="0.9" height="1.5" fill="#fb9a8a"/>
<rect x="342.19" y="436.4" width="5.01" height="0.5" fill="#fa7f6f"/>
<rect x="342.19" y="436.4" width="0.9" height="0.5" fill="#fb9a8a"/>
<rect x="347.2" y="435.4" width="5.01" height="1.5" fill="#fa7f6f"/>
<rect x="347.2" y="435.4" width="0.9" height="1.5" fill="#fb9a8a"/>
<line x1="74.5" y1="437.2" x2="74.5" y2="439.7" stroke="#999" stroke-width="0.8"/>
<text x="74.5" y="448.5" font-family="Liberation Sans" font-size="6.35" text-anchor="middle" fill="#34344c">1.00E-4</text>
<line x1="119.35" y1="437.2" x2="119.35" y2="439.7" stroke="#999" stroke-width="0.8"/>
<text x="119.35" y="448.5" font-family="Liberation Sans" font-size="6.35" text-anchor="middle" fill="#34344c">2.00E-4</text>
<line x1="164.2" y1="437.2" x2="164.2" y2="439.7" stroke="#999" stroke-width="0.8"/>
<text x="164.2" y="448.5" font-family="Liberation Sans" font-size="6.35" text-anchor="middle" fill="#34344c">3.00E-4</text>
<line x1="209.05" y1="437.2" x2="209.05" y2="439.7" stroke="#999" stroke-width="0.8"/>
<text x="209.05" y="448.5" font-family="Liberation Sans" font-size="6.35" text-anchor="middle" fill="#34344c">4.00E-4</text>
<line x1="253.9" y1="437.2" x2="253.9" y2="439.7" stroke="#999" stroke-width="0.8"/>
<text x="253.9" y="448.5" font-family="Liberation Sans" font-size="6.35" text-anchor="middle" fill="#34344c">5.00E-4</text>
<line x1="298.75" y1="437.2" x2="298.75" y2="439.7" stroke="#999" stroke-width="0.8"/>
<text x="298.75" y="448.5" font-family="Liberation Sans" font-size="6.35" text-anchor="middle" fill="#34344c">6.00E-4</text>
<line x1="343.6" y1="437.2" x2="343.6" y2="439.7" stroke="#999" stroke-width="0.8"/>
<text x="343.6" y="448.5" font-family="Liberation Sans" font-size="6.35" text-anchor="middle" fill="#34344c">7.00E-4</text>
<line x1="67.3" y1="255.3" x2="67.3" y2="437.2" stroke="#1c1434" stroke-width="1.75"/>
<line x1="132.6" y1="255.3" x2="132.6" y2="437.2" stroke="#1c1434" stroke-width="1.75"/>
<line x1="265.7" y1="255.3" x2="265.7" y2="437.2" stroke="#1c1434" stroke-width="1.75"/>
<path d="M61.4,432.95 L66,437.3 L61.4,441.65 Z" fill="#5e6266" stroke="#3c3f42" stroke-width="0.5"/>
<path d="M271.9,432.95 L267.5,437.3 L271.9,441.65 Z" fill="#6a6e72" stroke="#3c3f42" stroke-width="0.5"/>
<rect x="69.35" y="395.45" width="58.8" height="16.2" fill="#fff" stroke="#111" stroke-width="1.25"/>
<line x1="67.3" y1="403.55" x2="69.1" y2="403.55" stroke="#111" stroke-width="1.2"/>
<text x="98.75" y="407.15" font-family="Liberation Serif" font-weight="bold" font-size="10.9" text-anchor="middle" fill="#000" stroke="#000" stroke-width="0.35">5%=8.48E-5</text>
<rect x="134.75" y="387.45" width="68" height="16.1" fill="#fff" stroke="#111" stroke-width="1.25"/>
<line x1="132.6" y1="395.5" x2="134.5" y2="395.5" stroke="#111" stroke-width="1.2"/>
<text x="168.75" y="398.63" font-family="Liberation Serif" font-weight="bold" font-size="9.5" text-anchor="middle" fill="#000" stroke="#000" stroke-width="0.35">Mean = 2.30E-4</text>
<rect x="268.35" y="378.25" width="58" height="16" fill="#fff" stroke="#111" stroke-width="1.25"/>
<line x1="265.7" y1="386.25" x2="268.1" y2="386.25" stroke="#111" stroke-width="1.2"/>
<text x="297.35" y="389.42" font-family="Liberation Serif" font-weight="bold" font-size="9.6" text-anchor="middle" fill="#000" stroke="#000" stroke-width="0.35">95%=5.26E-4</text>
<rect x="399.3" y="234.1" width="384.7" height="219.3" fill="#efefef" stroke="#a6a6a6" stroke-width="1.6"/>
<text x="593.8" y="244.4" font-family="Liberation Serif" font-weight="bold" font-size="10.9" text-anchor="middle" fill="#111" stroke="#111" stroke-width="0.3">LTCR of PETs in Sangak Flour - Adults</text>
<rect x="431.8" y="252.8" width="322.5" height="182.6" fill="#fefef2" stroke="#c6c6c2" stroke-width="1.1"/>
<line x1="428.8" y1="435.3" x2="757.3" y2="435.3" stroke="#c9c9bd" stroke-width="1.1"/>
<text x="427.2" y="438.4" font-family="Liberation Serif" font-weight="bold" font-size="8.0" text-anchor="end" fill="#151515" stroke="#151515" stroke-width="0.2">0.00</text>
<text x="764.9" y="440.6" font-family="Liberation Serif" font-weight="bold" font-size="8.0" text-anchor="middle" fill="#151515" stroke="#151515" stroke-width="0.2">0</text>
<line x1="428.8" y1="405.64" x2="757.3" y2="405.64" stroke="#c9c9bd" stroke-width="1.1"/>
<text x="427.2" y="408.74" font-family="Liberation Serif" font-weight="bold" font-size="8.0" text-anchor="end" fill="#151515" stroke="#151515" stroke-width="0.2">0.01</text>
<text x="764.9" y="410.63" font-family="Liberation Serif" font-weight="bold" font-size="8.0" text-anchor="middle" fill="#151515" stroke="#151515" stroke-width="0.2">100</text>
<line x1="428.8" y1="375.98" x2="757.3" y2="375.98" stroke="#c9c9bd" stroke-width="1.1"/>
<text x="427.2" y="379.08" font-family="Liberation Serif" font-weight="bold" font-size="8.0" text-anchor="end" fill="#151515" stroke="#151515" stroke-width="0.2">0.02</text>
<text x="764.9" y="380.66" font-family="Liberation Serif" font-weight="bold" font-size="8.0" text-anchor="middle" fill="#151515" stroke="#151515" stroke-width="0.2">200</text>
<line x1="428.8" y1="346.32" x2="757.3" y2="346.32" stroke="#c9c9bd" stroke-width="1.1"/>
<text x="427.2" y="349.42" font-family="Liberation Serif" font-weight="bold" font-size="8.0" text-anchor="end" fill="#151515" stroke="#151515" stroke-width="0.2">0.03</text>
<text x="764.9" y="350.69" font-family="Liberation Serif" font-weight="bold" font-size="8.0" text-anchor="middle" fill="#151515" stroke="#151515" stroke-width="0.2">300</text>
<line x1="428.8" y1="316.66" x2="757.3" y2="316.66" stroke="#c9c9bd" stroke-width="1.1"/>
<text x="427.2" y="319.76" font-family="Liberation Serif" font-weight="bold" font-size="8.0" text-anchor="end" fill="#151515" stroke="#151515" stroke-width="0.2">0.04</text>
<text x="764.9" y="320.72" font-family="Liberation Serif" font-weight="bold" font-size="8.0" text-anchor="middle" fill="#151515" stroke="#151515" stroke-width="0.2">400</text>
<line x1="428.8" y1="287" x2="757.3" y2="287" stroke="#c9c9bd" stroke-width="1.1"/>
<text x="427.2" y="290.1" font-family="Liberation Serif" font-weight="bold" font-size="8.0" text-anchor="end" fill="#151515" stroke="#151515" stroke-width="0.2">0.06</text>
<text x="764.9" y="290.75" font-family="Liberation Serif" font-weight="bold" font-size="8.0" text-anchor="middle" fill="#151515" stroke="#151515" stroke-width="0.2">500</text>
<line x1="428.8" y1="257.34" x2="757.3" y2="257.34" stroke="#c9c9bd" stroke-width="1.1"/>
<text x="427.2" y="260.44" font-family="Liberation Serif" font-weight="bold" font-size="8.0" text-anchor="end" fill="#151515" stroke="#151515" stroke-width="0.2">0.08</text>
<text x="764.9" y="260.78" font-family="Liberation Serif" font-weight="bold" font-size="8.0" text-anchor="middle" fill="#151515" stroke="#151515" stroke-width="0.2">600</text>
<text transform="translate(408,345) rotate(-90)" x="0" y="2.94" font-family="Liberation Serif" font-weight="bold" font-size="8.9" text-anchor="middle" fill="#151515" stroke="#151515" stroke-width="0.2">Probability</text>
<text transform="translate(778.6,344) rotate(90)" x="0" y="3" font-family="Liberation Serif" font-weight="bold" font-size="9.1" text-anchor="middle" fill="#151515" stroke="#151515" stroke-width="0.2">Frequency</text>
<rect x="440.1" y="433.2" width="5.01" height="2.2" fill="#fa7f6f"/>
<rect x="440.1" y="433.2" width="0.9" height="2.2" fill="#fb9a8a"/>
<rect x="445.12" y="420.5" width="5.01" height="14.9" fill="#fa7f6f"/>
<rect x="445.12" y="420.5" width="0.9" height="14.9" fill="#fb9a8a"/>
<rect x="450.13" y="400" width="5.01" height="35.4" fill="#fa7f6f"/>
<rect x="450.13" y="400" width="0.9" height="35.4" fill="#fb9a8a"/>
<rect x="455.15" y="368.4" width="5.01" height="67" fill="#fa7f6f"/>
<rect x="455.15" y="368.4" width="0.9" height="67" fill="#fb9a8a"/>
<rect x="460.16" y="342.1" width="5.01" height="93.3" fill="#000c7c"/>
<rect x="460.16" y="342.1" width="0.9" height="93.3" fill="#3a2e9e"/>
<rect x="465.18" y="311.3" width="5.01" height="124.1" fill="#000c7c"/>
<rect x="465.18" y="311.3" width="0.9" height="124.1" fill="#3a2e9e"/>
<rect x="470.19" y="286.8" width="5.01" height="148.6" fill="#000c7c"/>
<rect x="470.19" y="286.8" width="0.9" height="148.6" fill="#3a2e9e"/>
<rect x="475.21" y="275.3" width="5.01" height="160.1" fill="#000c7c"/>
<rect x="475.21" y="275.3" width="0.9" height="160.1" fill="#3a2e9e"/>
<rect x="480.22" y="275.3" width="5.01" height="160.1" fill="#000c7c"/>
<rect x="480.22" y="275.3" width="0.9" height="160.1" fill="#3a2e9e"/>
<rect x="485.24" y="261.8" width="5.01" height="173.6" fill="#000c7c"/>
<rect x="485.24" y="261.8" width="0.9" height="173.6" fill="#3a2e9e"/>
<rect x="490.25" y="263.5" width="5.01" height="171.9" fill="#000c7c"/>
<rect x="490.25" y="263.5" width="0.9" height="171.9" fill="#3a2e9e"/>
<rect x="495.27" y="267.3" width="5.01" height="168.1" fill="#000c7c"/>
<rect x="495.27" y="267.3" width="0.9" height="168.1" fill="#3a2e9e"/>
<rect x="500.28" y="298.9" width="5.01" height="136.5" fill="#000c7c"/>
<rect x="500.28" y="298.9" width="0.9" height="136.5" fill="#3a2e9e"/>
<rect x="505.3" y="299.7" width="5.01" height="135.7" fill="#000c7c"/>
<rect x="505.3" y="299.7" width="0.9" height="135.7" fill="#3a2e9e"/>
<rect x="510.31" y="313.5" width="5.02" height="121.9" fill="#000c7c"/>
<rect x="510.31" y="313.5" width="0.9" height="121.9" fill="#3a2e9e"/>
<rect x="515.33" y="316.5" width="5.01" height="118.9" fill="#000c7c"/>
<rect x="515.33" y="316.5" width="0.9" height="118.9" fill="#3a2e9e"/>
<rect x="520.34" y="334.3" width="5.01" height="101.1" fill="#000c7c"/>
<rect x="520.34" y="334.3" width="0.9" height="101.1" fill="#3a2e9e"/>
<rect x="525.36" y="342" width="5.01" height="93.4" fill="#000c7c"/>
<rect x="525.36" y="342" width="0.9" height="93.4" fill="#3a2e9e"/>
<rect x="530.37" y="357.2" width="5.01" height="78.2" fill="#000c7c"/>
<rect x="530.37" y="357.2" width="0.9" height="78.2" fill="#3a2e9e"/>
<rect x="535.38" y="361" width="5.01" height="74.4" fill="#000c7c"/>
<rect x="535.38" y="361" width="0.9" height="74.4" fill="#3a2e9e"/>
<rect x="540.4" y="374.5" width="5.01" height="60.9" fill="#000c7c"/>
<rect x="540.4" y="374.5" width="0.9" height="60.9" fill="#3a2e9e"/>
<rect x="545.41" y="383" width="5.01" height="52.4" fill="#000c7c"/>
<rect x="545.41" y="383" width="0.9" height="52.4" fill="#3a2e9e"/>
<rect x="550.43" y="380.5" width="5.01" height="54.9" fill="#000c7c"/>
<rect x="550.43" y="380.5" width="0.9" height="54.9" fill="#3a2e9e"/>
<rect x="555.45" y="386" width="5.01" height="49.4" fill="#000c7c"/>
<rect x="555.45" y="386" width="0.9" height="49.4" fill="#3a2e9e"/>
<rect x="560.46" y="390.5" width="5.01" height="44.9" fill="#000c7c"/>
<rect x="560.46" y="390.5" width="0.9" height="44.9" fill="#3a2e9e"/>
<rect x="565.48" y="395.5" width="5.01" height="39.9" fill="#000c7c"/>
<rect x="565.48" y="395.5" width="0.9" height="39.9" fill="#3a2e9e"/>
<rect x="570.49" y="399.5" width="5.01" height="35.9" fill="#000c7c"/>
<rect x="570.49" y="399.5" width="0.9" height="35.9" fill="#3a2e9e"/>
<rect x="575.5" y="404.9" width="5.01" height="30.5" fill="#000c7c"/>
<rect x="575.5" y="404.9" width="0.9" height="30.5" fill="#3a2e9e"/>
<rect x="580.52" y="404.9" width="5.01" height="30.5" fill="#000c7c"/>
<rect x="580.52" y="404.9" width="0.9" height="30.5" fill="#3a2e9e"/>
<rect x="585.54" y="411.4" width="5.01" height="24" fill="#000c7c"/>
<rect x="585.54" y="411.4" width="0.9" height="24" fill="#3a2e9e"/>
<rect x="590.55" y="414.4" width="5.01" height="21" fill="#000c7c"/>
<rect x="590.55" y="414.4" width="0.9" height="21" fill="#3a2e9e"/>
<rect x="595.57" y="414.4" width="5.01" height="21" fill="#000c7c"/>
<rect x="595.57" y="414.4" width="0.9" height="21" fill="#3a2e9e"/>
<rect x="600.58" y="419.2" width="5.01" height="16.2" fill="#000c7c"/>
<rect x="600.58" y="419.2" width="0.9" height="16.2" fill="#3a2e9e"/>
<rect x="605.6" y="419.5" width="5.01" height="15.9" fill="#000c7c"/>
<rect x="605.6" y="419.5" width="0.9" height="15.9" fill="#3a2e9e"/>
<rect x="610.61" y="418.6" width="5.01" height="16.8" fill="#000c7c"/>
<rect x="610.61" y="418.6" width="0.9" height="16.8" fill="#3a2e9e"/>
<rect x="615.62" y="422.7" width="5.01" height="12.7" fill="#000c7c"/>
<rect x="615.62" y="422.7" width="0.9" height="12.7" fill="#3a2e9e"/>
<rect x="620.64" y="421.5" width="5.01" height="13.9" fill="#000c7c"/>
<rect x="620.64" y="421.5" width="0.9" height="13.9" fill="#3a2e9e"/>
<rect x="625.65" y="422.7" width="5.01" height="12.7" fill="#000c7c"/>
<rect x="625.65" y="422.7" width="0.9" height="12.7" fill="#3a2e9e"/>
<rect x="630.67" y="421" width="5.01" height="14.4" fill="#000c7c"/>
<rect x="630.67" y="421" width="0.9" height="14.4" fill="#3a2e9e"/>
<rect x="635.68" y="424.3" width="5.01" height="11.1" fill="#000c7c"/>
<rect x="635.68" y="424.3" width="0.9" height="11.1" fill="#3a2e9e"/>
<rect x="640.7" y="424.3" width="5.01" height="11.1" fill="#000c7c"/>
<rect x="640.7" y="424.3" width="0.9" height="11.1" fill="#3a2e9e"/>
<rect x="645.72" y="424.3" width="5.01" height="11.1" fill="#000c7c"/>
<rect x="645.72" y="424.3" width="0.9" height="11.1" fill="#3a2e9e"/>
<rect x="650.73" y="428" width="5.01" height="7.4" fill="#000c7c"/>
<rect x="650.73" y="428" width="0.9" height="7.4" fill="#3a2e9e"/>
<rect x="655.75" y="426.5" width="5.01" height="8.9" fill="#000c7c"/>
<rect x="655.75" y="426.5" width="0.9" height="8.9" fill="#3a2e9e"/>
<rect x="660.76" y="428.4" width="5.01" height="7" fill="#fa7f6f"/>
<rect x="660.76" y="428.4" width="0.9" height="7" fill="#fb9a8a"/>
<rect x="665.77" y="428.4" width="5.01" height="7" fill="#fa7f6f"/>
<rect x="665.77" y="428.4" width="0.9" height="7" fill="#fb9a8a"/>
<rect x="670.79" y="432.3" width="5.01" height="3.1" fill="#fa7f6f"/>
<rect x="670.79" y="432.3" width="0.9" height="3.1" fill="#fb9a8a"/>
<rect x="675.81" y="430.5" width="5.01" height="4.9" fill="#fa7f6f"/>
<rect x="675.81" y="430.5" width="0.9" height="4.9" fill="#fb9a8a"/>
<rect x="680.82" y="429.5" width="5.01" height="5.9" fill="#fa7f6f"/>
<rect x="680.82" y="429.5" width="0.9" height="5.9" fill="#fb9a8a"/>
<rect x="685.84" y="430.5" width="5.01" height="4.9" fill="#fa7f6f"/>
<rect x="685.84" y="430.5" width="0.9" height="4.9" fill="#fb9a8a"/>
<rect x="690.85" y="432.5" width="5.01" height="2.9" fill="#fa7f6f"/>
<rect x="690.85" y="432.5" width="0.9" height="2.9" fill="#fb9a8a"/>
<rect x="695.87" y="430.5" width="5.01" height="4.9" fill="#fa7f6f"/>
<rect x="695.87" y="430.5" width="0.9" height="4.9" fill="#fb9a8a"/>
<rect x="700.88" y="431.5" width="5.01" height="3.9" fill="#fa7f6f"/>
<rect x="700.88" y="431.5" width="0.9" height="3.9" fill="#fb9a8a"/>
<rect x="705.89" y="431.5" width="5.01" height="3.9" fill="#fa7f6f"/>
<rect x="705.89" y="431.5" width="0.9" height="3.9" fill="#fb9a8a"/>
<rect x="710.91" y="431.9" width="5.01" height="3.5" fill="#fa7f6f"/>
<rect x="710.91" y="431.9" width="0.9" height="3.5" fill="#fb9a8a"/>
<rect x="715.92" y="431.9" width="5.01" height="3.5" fill="#fa7f6f"/>
<rect x="715.92" y="431.9" width="0.9" height="3.5" fill="#fb9a8a"/>
<rect x="720.94" y="431.9" width="5.01" height="3.5" fill="#fa7f6f"/>
<rect x="720.94" y="431.9" width="0.9" height="3.5" fill="#fb9a8a"/>
<rect x="725.95" y="430.5" width="5.01" height="4.9" fill="#fa7f6f"/>
<rect x="725.95" y="430.5" width="0.9" height="4.9" fill="#fb9a8a"/>
<rect x="730.97" y="433.9" width="5.01" height="1.5" fill="#fa7f6f"/>
<rect x="730.97" y="433.9" width="0.9" height="1.5" fill="#fb9a8a"/>
<rect x="735.99" y="434.9" width="5.01" height="0.5" fill="#fa7f6f"/>
<rect x="735.99" y="434.9" width="0.9" height="0.5" fill="#fb9a8a"/>
<rect x="741" y="433.9" width="5.01" height="1.5" fill="#fa7f6f"/>
<rect x="741" y="433.9" width="0.9" height="1.5" fill="#fb9a8a"/>
<line x1="503.6" y1="435.4" x2="503.6" y2="437.9" stroke="#999" stroke-width="0.8"/>
<text x="503.6" y="446.3" font-family="Liberation Sans" font-size="6.35" text-anchor="middle" fill="#34344c">1.00E-3</text>
<line x1="584.7" y1="435.4" x2="584.7" y2="437.9" stroke="#999" stroke-width="0.8"/>
<text x="584.7" y="446.3" font-family="Liberation Sans" font-size="6.35" text-anchor="middle" fill="#34344c">2.00E-3</text>
<line x1="665.8" y1="435.4" x2="665.8" y2="437.9" stroke="#999" stroke-width="0.8"/>
<text x="665.8" y="446.3" font-family="Liberation Sans" font-size="6.35" text-anchor="middle" fill="#34344c">3.00E-3</text>
<line x1="746.9" y1="435.4" x2="746.9" y2="437.9" stroke="#999" stroke-width="0.8"/>
<text x="746.9" y="446.3" font-family="Liberation Sans" font-size="6.35" text-anchor="middle" fill="#34344c">4.00E-3</text>
<line x1="461" y1="253.8" x2="461" y2="435.4" stroke="#1c1434" stroke-width="1.75"/>
<line x1="526.1" y1="253.8" x2="526.1" y2="435.4" stroke="#1c1434" stroke-width="1.75"/>
<line x1="659.5" y1="253.8" x2="659.5" y2="435.4" stroke="#1c1434" stroke-width="1.75"/>
<path d="M455.1,431.25 L459.7,435.6 L455.1,439.95 Z" fill="#5e6266" stroke="#3c3f42" stroke-width="0.5"/>
<path d="M665.7,431.25 L661.3,435.6 L665.7,439.95 Z" fill="#6a6e72" stroke="#3c3f42" stroke-width="0.5"/>
<rect x="463.25" y="395.05" width="58.4" height="16.1" fill="#fff" stroke="#111" stroke-width="1.25"/>
<line x1="461" y1="403.1" x2="463" y2="403.1" stroke="#111" stroke-width="1.2"/>
<text x="492.45" y="406.66" font-family="Liberation Serif" font-weight="bold" font-size="10.8" text-anchor="middle" fill="#000" stroke="#000" stroke-width="0.35">5%=4.72E-4</text>
<rect x="528.45" y="385.55" width="67.9" height="15.7" fill="#fff" stroke="#111" stroke-width="1.25"/>
<line x1="526.1" y1="393.4" x2="528.2" y2="393.4" stroke="#111" stroke-width="1.2"/>
<text x="562.4" y="396.52" font-family="Liberation Serif" font-weight="bold" font-size="9.45" text-anchor="middle" fill="#000" stroke="#000" stroke-width="0.35">Mean = 1.28E-3</text>
<rect x="662.35" y="375.65" width="57.9" height="16.6" fill="#fff" stroke="#111" stroke-width="1.25"/>
<line x1="659.5" y1="383.95" x2="662.1" y2="383.95" stroke="#111" stroke-width="1.2"/>
<text x="691.3" y="387.12" font-family="Liberation Serif" font-weight="bold" font-size="9.6" text-anchor="middle" fill="#000" stroke="#000" stroke-width="0.35">95%=2.92E-3</text>
<rect x="4.5" y="463.7" width="384.4" height="221.5" fill="#efefef" stroke="#a6a6a6" stroke-width="1.6"/>
<text x="207" y="475.8" font-family="Liberation Serif" font-weight="bold" font-size="10.9" text-anchor="middle" fill="#111" stroke="#111" stroke-width="0.3">LTCR of PETs in Lavash Flour - Children</text>
<rect x="36.8" y="482.4" width="322.1" height="184.2" fill="#fefef2" stroke="#c6c6c2" stroke-width="1.1"/>
<line x1="33.8" y1="666.4" x2="361.9" y2="666.4" stroke="#c9c9bd" stroke-width="1.1"/>
<text x="33.1" y="671.3" font-family="Liberation Serif" font-weight="bold" font-size="8.0" text-anchor="end" fill="#151515" stroke="#151515" stroke-width="0.2">0.00</text>
<text x="368.7" y="669.5" font-family="Liberation Serif" font-weight="bold" font-size="8.0" text-anchor="middle" fill="#151515" stroke="#151515" stroke-width="0.2">0</text>
<line x1="33.8" y1="639.83" x2="361.9" y2="639.83" stroke="#c9c9bd" stroke-width="1.1"/>
<text x="33.1" y="644.2" font-family="Liberation Serif" font-weight="bold" font-size="8.0" text-anchor="end" fill="#151515" stroke="#151515" stroke-width="0.2">0.01</text>
<text x="368.7" y="642.93" font-family="Liberation Serif" font-weight="bold" font-size="8.0" text-anchor="middle" fill="#151515" stroke="#151515" stroke-width="0.2">100</text>
<line x1="33.8" y1="613.26" x2="361.9" y2="613.26" stroke="#c9c9bd" stroke-width="1.1"/>
<text x="33.1" y="616.6" font-family="Liberation Serif" font-weight="bold" font-size="8.0" text-anchor="end" fill="#151515" stroke="#151515" stroke-width="0.2">0.02</text>
<text x="368.7" y="616.36" font-family="Liberation Serif" font-weight="bold" font-size="8.0" text-anchor="middle" fill="#151515" stroke="#151515" stroke-width="0.2">200</text>
<line x1="33.8" y1="586.69" x2="361.9" y2="586.69" stroke="#c9c9bd" stroke-width="1.1"/>
<text x="33.1" y="589.6" font-family="Liberation Serif" font-weight="bold" font-size="8.0" text-anchor="end" fill="#151515" stroke="#151515" stroke-width="0.2">0.03</text>
<text x="368.7" y="589.79" font-family="Liberation Serif" font-weight="bold" font-size="8.0" text-anchor="middle" fill="#151515" stroke="#151515" stroke-width="0.2">300</text>
<line x1="33.8" y1="560.12" x2="361.9" y2="560.12" stroke="#c9c9bd" stroke-width="1.1"/>
<text x="33.1" y="562.7" font-family="Liberation Serif" font-weight="bold" font-size="8.0" text-anchor="end" fill="#151515" stroke="#151515" stroke-width="0.2">0.04</text>
<text x="368.7" y="563.22" font-family="Liberation Serif" font-weight="bold" font-size="8.0" text-anchor="middle" fill="#151515" stroke="#151515" stroke-width="0.2">400</text>
<line x1="33.8" y1="533.55" x2="361.9" y2="533.55" stroke="#c9c9bd" stroke-width="1.1"/>
<text x="33.1" y="535.5" font-family="Liberation Serif" font-weight="bold" font-size="8.0" text-anchor="end" fill="#151515" stroke="#151515" stroke-width="0.2">0.06</text>
<text x="368.7" y="536.65" font-family="Liberation Serif" font-weight="bold" font-size="8.0" text-anchor="middle" fill="#151515" stroke="#151515" stroke-width="0.2">500</text>
<line x1="33.8" y1="506.98" x2="361.9" y2="506.98" stroke="#c9c9bd" stroke-width="1.1"/>
<text x="33.1" y="508.4" font-family="Liberation Serif" font-weight="bold" font-size="8.0" text-anchor="end" fill="#151515" stroke="#151515" stroke-width="0.2">0.08</text>
<text x="368.7" y="510.08" font-family="Liberation Serif" font-weight="bold" font-size="8.0" text-anchor="middle" fill="#151515" stroke="#151515" stroke-width="0.2">600</text>
<text transform="translate(12.4,574.3) rotate(-90)" x="0" y="2.94" font-family="Liberation Serif" font-weight="bold" font-size="8.9" text-anchor="middle" fill="#151515" stroke="#151515" stroke-width="0.2">Probability</text>
<text transform="translate(380.6,574.3) rotate(90)" x="0" y="3" font-family="Liberation Serif" font-weight="bold" font-size="9.1" text-anchor="middle" fill="#151515" stroke="#151515" stroke-width="0.2">Frequency</text>
<rect x="44.3" y="664.7" width="5.02" height="1.6" fill="#fa7f6f"/>
<rect x="44.3" y="664.7" width="0.9" height="1.6" fill="#fb9a8a"/>
<rect x="49.32" y="651.2" width="5.02" height="15.1" fill="#fa7f6f"/>
<rect x="49.32" y="651.2" width="0.9" height="15.1" fill="#fb9a8a"/>
<rect x="54.35" y="632.7" width="5.02" height="33.6" fill="#fa7f6f"/>
<rect x="54.35" y="632.7" width="0.9" height="33.6" fill="#fb9a8a"/>
<rect x="59.37" y="579.9" width="5.02" height="86.4" fill="#fa7f6f"/>
<rect x="59.37" y="579.9" width="0.9" height="86.4" fill="#fb9a8a"/>
<rect x="64.39" y="548.8" width="5.02" height="117.5" fill="#000c7c"/>
<rect x="64.39" y="548.8" width="0.9" height="117.5" fill="#3a2e9e"/>
<rect x="69.41" y="527.8" width="5.02" height="138.5" fill="#000c7c"/>
<rect x="69.41" y="527.8" width="0.9" height="138.5" fill="#3a2e9e"/>
<rect x="74.44" y="497.5" width="5.02" height="168.8" fill="#000c7c"/>
<rect x="74.44" y="497.5" width="0.9" height="168.8" fill="#3a2e9e"/>
<rect x="79.46" y="492.2" width="5.02" height="174.1" fill="#000c7c"/>
<rect x="79.46" y="492.2" width="0.9" height="174.1" fill="#3a2e9e"/>
<rect x="84.48" y="501.6" width="5.02" height="164.7" fill="#000c7c"/>
<rect x="84.48" y="501.6" width="0.9" height="164.7" fill="#3a2e9e"/>
<rect x="89.51" y="496.8" width="5.02" height="169.5" fill="#000c7c"/>
<rect x="89.51" y="496.8" width="0.9" height="169.5" fill="#3a2e9e"/>
<rect x="94.53" y="512.2" width="5.02" height="154.1" fill="#000c7c"/>
<rect x="94.53" y="512.2" width="0.9" height="154.1" fill="#3a2e9e"/>
<rect x="99.55" y="523.1" width="5.02" height="143.2" fill="#000c7c"/>
<rect x="99.55" y="523.1" width="0.9" height="143.2" fill="#3a2e9e"/>
<rect x="104.58" y="525.5" width="5.02" height="140.8" fill="#000c7c"/>
<rect x="104.58" y="525.5" width="0.9" height="140.8" fill="#3a2e9e"/>
<rect x="109.6" y="555.3" width="5.02" height="111" fill="#000c7c"/>
<rect x="109.6" y="555.3" width="0.9" height="111" fill="#3a2e9e"/>
<rect x="114.62" y="575.6" width="5.02" height="90.7" fill="#000c7c"/>
<rect x="114.62" y="575.6" width="0.9" height="90.7" fill="#3a2e9e"/>
<rect x="119.64" y="572.6" width="5.02" height="93.7" fill="#000c7c"/>
<rect x="119.64" y="572.6" width="0.9" height="93.7" fill="#3a2e9e"/>
<rect x="124.67" y="575.3" width="5.02" height="91" fill="#000c7c"/>
<rect x="124.67" y="575.3" width="0.9" height="91" fill="#3a2e9e"/>
<rect x="129.69" y="597.8" width="5.02" height="68.5" fill="#000c7c"/>
<rect x="129.69" y="597.8" width="0.9" height="68.5" fill="#3a2e9e"/>
<rect x="134.71" y="606.3" width="5.02" height="60" fill="#000c7c"/>
<rect x="134.71" y="606.3" width="0.9" height="60" fill="#3a2e9e"/>
<rect x="139.74" y="609.3" width="5.02" height="57" fill="#000c7c"/>
<rect x="139.74" y="609.3" width="0.9" height="57" fill="#3a2e9e"/>
<rect x="144.76" y="615" width="5.02" height="51.3" fill="#000c7c"/>
<rect x="144.76" y="615" width="0.9" height="51.3" fill="#3a2e9e"/>
<rect x="149.78" y="620" width="5.02" height="46.3" fill="#000c7c"/>
<rect x="149.78" y="620" width="0.9" height="46.3" fill="#3a2e9e"/>
<rect x="154.81" y="626" width="5.02" height="40.3" fill="#000c7c"/>
<rect x="154.81" y="626" width="0.9" height="40.3" fill="#3a2e9e"/>
<rect x="159.83" y="633.7" width="5.02" height="32.6" fill="#000c7c"/>
<rect x="159.83" y="633.7" width="0.9" height="32.6" fill="#3a2e9e"/>
<rect x="164.85" y="636" width="5.02" height="30.3" fill="#000c7c"/>
<rect x="164.85" y="636" width="0.9" height="30.3" fill="#3a2e9e"/>
<rect x="169.88" y="638.5" width="5.02" height="27.8" fill="#000c7c"/>
<rect x="169.88" y="638.5" width="0.9" height="27.8" fill="#3a2e9e"/>
<rect x="174.9" y="638.5" width="5.02" height="27.8" fill="#000c7c"/>
<rect x="174.9" y="638.5" width="0.9" height="27.8" fill="#3a2e9e"/>
<rect x="179.92" y="646.3" width="5.02" height="20" fill="#000c7c"/>
<rect x="179.92" y="646.3" width="0.9" height="20" fill="#3a2e9e"/>
<rect x="184.94" y="645.6" width="5.02" height="20.7" fill="#000c7c"/>
<rect x="184.94" y="645.6" width="0.9" height="20.7" fill="#3a2e9e"/>
<rect x="189.97" y="652.9" width="5.02" height="13.4" fill="#000c7c"/>
<rect x="189.97" y="652.9" width="0.9" height="13.4" fill="#3a2e9e"/>
<rect x="194.99" y="654.2" width="5.02" height="12.1" fill="#000c7c"/>
<rect x="194.99" y="654.2" width="0.9" height="12.1" fill="#3a2e9e"/>
<rect x="200.01" y="654.2" width="5.02" height="12.1" fill="#000c7c"/>
<rect x="200.01" y="654.2" width="0.9" height="12.1" fill="#3a2e9e"/>
<rect x="205.04" y="652.2" width="5.02" height="14.1" fill="#000c7c"/>
<rect x="205.04" y="652.2" width="0.9" height="14.1" fill="#3a2e9e"/>
<rect x="210.06" y="652.2" width="5.02" height="14.1" fill="#000c7c"/>
<rect x="210.06" y="652.2" width="0.9" height="14.1" fill="#3a2e9e"/>
<rect x="215.08" y="654.2" width="5.02" height="12.1" fill="#000c7c"/>
<rect x="215.08" y="654.2" width="0.9" height="12.1" fill="#3a2e9e"/>
<rect x="220.1" y="656.2" width="5.02" height="10.1" fill="#000c7c"/>
<rect x="220.1" y="656.2" width="0.9" height="10.1" fill="#3a2e9e"/>
<rect x="225.13" y="655.5" width="5.02" height="10.8" fill="#000c7c"/>
<rect x="225.13" y="655.5" width="0.9" height="10.8" fill="#3a2e9e"/>
<rect x="230.15" y="655" width="5.02" height="11.3" fill="#000c7c"/>
<rect x="230.15" y="655" width="0.9" height="11.3" fill="#3a2e9e"/>
<rect x="235.17" y="659.5" width="5.02" height="6.8" fill="#000c7c"/>
<rect x="235.17" y="659.5" width="0.9" height="6.8" fill="#3a2e9e"/>
<rect x="240.2" y="656.5" width="5.02" height="9.8" fill="#000c7c"/>
<rect x="240.2" y="656.5" width="0.9" height="9.8" fill="#3a2e9e"/>
<rect x="245.22" y="661.5" width="5.02" height="4.8" fill="#000c7c"/>
<rect x="245.22" y="661.5" width="0.9" height="4.8" fill="#3a2e9e"/>
<rect x="250.24" y="657.3" width="5.02" height="9" fill="#fa7f6f"/>
<rect x="250.24" y="657.3" width="0.9" height="9" fill="#fb9a8a"/>
<rect x="255.27" y="660" width="5.02" height="6.3" fill="#fa7f6f"/>
<rect x="255.27" y="660" width="0.9" height="6.3" fill="#fb9a8a"/>
<rect x="260.29" y="661.8" width="5.02" height="4.5" fill="#fa7f6f"/>
<rect x="260.29" y="661.8" width="0.9" height="4.5" fill="#fb9a8a"/>
<rect x="265.31" y="661.8" width="5.02" height="4.5" fill="#fa7f6f"/>
<rect x="265.31" y="661.8" width="0.9" height="4.5" fill="#fb9a8a"/>
<rect x="270.33" y="662.3" width="5.02" height="4" fill="#fa7f6f"/>
<rect x="270.33" y="662.3" width="0.9" height="4" fill="#fb9a8a"/>
<rect x="275.36" y="663" width="5.02" height="3.3" fill="#fa7f6f"/>
<rect x="275.36" y="663" width="0.9" height="3.3" fill="#fb9a8a"/>
<rect x="280.38" y="664.2" width="5.02" height="2.1" fill="#fa7f6f"/>
<rect x="280.38" y="664.2" width="0.9" height="2.1" fill="#fb9a8a"/>
<rect x="285.4" y="662.3" width="5.02" height="4" fill="#fa7f6f"/>
<rect x="285.4" y="662.3" width="0.9" height="4" fill="#fb9a8a"/>
<rect x="290.43" y="662.3" width="5.02" height="4" fill="#fa7f6f"/>
<rect x="290.43" y="662.3" width="0.9" height="4" fill="#fb9a8a"/>
<rect x="295.45" y="663" width="5.02" height="3.3" fill="#fa7f6f"/>
<rect x="295.45" y="663" width="0.9" height="3.3" fill="#fb9a8a"/>
<rect x="300.47" y="663" width="5.02" height="3.3" fill="#fa7f6f"/>
<rect x="300.47" y="663" width="0.9" height="3.3" fill="#fb9a8a"/>
<rect x="305.5" y="663" width="5.02" height="3.3" fill="#fa7f6f"/>
<rect x="305.5" y="663" width="0.9" height="3.3" fill="#fb9a8a"/>
<rect x="310.52" y="664.2" width="5.02" height="2.1" fill="#fa7f6f"/>
<rect x="310.52" y="664.2" width="0.9" height="2.1" fill="#fb9a8a"/>
<rect x="315.54" y="664.8" width="5.02" height="1.5" fill="#fa7f6f"/>
<rect x="315.54" y="664.8" width="0.9" height="1.5" fill="#fb9a8a"/>
<rect x="320.56" y="665.3" width="5.02" height="1" fill="#fa7f6f"/>
<rect x="320.56" y="665.3" width="0.9" height="1" fill="#fb9a8a"/>
<rect x="325.59" y="664.8" width="5.02" height="1.5" fill="#fa7f6f"/>
<rect x="325.59" y="664.8" width="0.9" height="1.5" fill="#fb9a8a"/>
<rect x="330.61" y="664.8" width="5.02" height="1.5" fill="#fa7f6f"/>
<rect x="330.61" y="664.8" width="0.9" height="1.5" fill="#fb9a8a"/>
<rect x="335.63" y="664.8" width="5.02" height="1.5" fill="#fa7f6f"/>
<rect x="335.63" y="664.8" width="0.9" height="1.5" fill="#fb9a8a"/>
<rect x="340.66" y="664.8" width="5.02" height="1.5" fill="#fa7f6f"/>
<rect x="340.66" y="664.8" width="0.9" height="1.5" fill="#fb9a8a"/>
<rect x="345.68" y="665.3" width="5.02" height="1" fill="#fa7f6f"/>
<rect x="345.68" y="665.3" width="0.9" height="1" fill="#fb9a8a"/>
<line x1="72.9" y1="666.6" x2="72.9" y2="669.1" stroke="#999" stroke-width="0.8"/>
<text x="72.9" y="677.8" font-family="Liberation Sans" font-size="6.35" text-anchor="middle" fill="#34344c">1.00E-4</text>
<line x1="115.35" y1="666.6" x2="115.35" y2="669.1" stroke="#999" stroke-width="0.8"/>
<text x="115.35" y="677.8" font-family="Liberation Sans" font-size="6.35" text-anchor="middle" fill="#34344c">2.00E-4</text>
<line x1="157.8" y1="666.6" x2="157.8" y2="669.1" stroke="#999" stroke-width="0.8"/>
<text x="157.8" y="677.8" font-family="Liberation Sans" font-size="6.35" text-anchor="middle" fill="#34344c">3.00E-4</text>
<line x1="200.25" y1="666.6" x2="200.25" y2="669.1" stroke="#999" stroke-width="0.8"/>
<text x="200.25" y="677.8" font-family="Liberation Sans" font-size="6.35" text-anchor="middle" fill="#34344c">4.00E-4</text>
<line x1="242.7" y1="666.6" x2="242.7" y2="669.1" stroke="#999" stroke-width="0.8"/>
<text x="242.7" y="677.8" font-family="Liberation Sans" font-size="6.35" text-anchor="middle" fill="#34344c">5.00E-4</text>
<line x1="285.15" y1="666.6" x2="285.15" y2="669.1" stroke="#999" stroke-width="0.8"/>
<text x="285.15" y="677.8" font-family="Liberation Sans" font-size="6.35" text-anchor="middle" fill="#34344c">6.00E-4</text>
<line x1="327.6" y1="666.6" x2="327.6" y2="669.1" stroke="#999" stroke-width="0.8"/>
<text x="327.6" y="677.8" font-family="Liberation Sans" font-size="6.35" text-anchor="middle" fill="#34344c">7.00E-4</text>
<line x1="64" y1="483.4" x2="64" y2="666.6" stroke="#1c1434" stroke-width="1.75"/>
<line x1="124.3" y1="483.4" x2="124.3" y2="666.6" stroke="#1c1434" stroke-width="1.75"/>
<line x1="250.4" y1="483.4" x2="250.4" y2="666.6" stroke="#1c1434" stroke-width="1.75"/>
<path d="M58.1,662.25 L62.7,666.6 L58.1,670.95 Z" fill="#5e6266" stroke="#3c3f42" stroke-width="0.5"/>
<path d="M256.6,662.25 L252.2,666.6 L256.6,670.95 Z" fill="#6a6e72" stroke="#3c3f42" stroke-width="0.5"/>
<rect x="65.05" y="625.85" width="58.4" height="16.2" fill="#fff" stroke="#111" stroke-width="1.25"/>
<line x1="64" y1="633.95" x2="64.8" y2="633.95" stroke="#111" stroke-width="1.2"/>
<text x="94.25" y="637.51" font-family="Liberation Serif" font-weight="bold" font-size="10.8" text-anchor="middle" fill="#000" stroke="#000" stroke-width="0.35">5%=8.03E-5</text>
<rect x="127.75" y="615.95" width="68.5" height="16.2" fill="#fff" stroke="#111" stroke-width="1.25"/>
<line x1="124.3" y1="624.05" x2="127.5" y2="624.05" stroke="#111" stroke-width="1.2"/>
<text x="162" y="627.18" font-family="Liberation Serif" font-weight="bold" font-size="9.5" text-anchor="middle" fill="#000" stroke="#000" stroke-width="0.35">Mean = 2.21E-4</text>
<rect x="253.35" y="605.65" width="57.3" height="16.6" fill="#fff" stroke="#111" stroke-width="1.25"/>
<line x1="250.4" y1="613.95" x2="253.1" y2="613.95" stroke="#111" stroke-width="1.2"/>
<text x="282" y="617.12" font-family="Liberation Serif" font-weight="bold" font-size="9.6" text-anchor="middle" fill="#000" stroke="#000" stroke-width="0.35">95%=5.17E-4</text>
<rect x="398.3" y="463.6" width="389.1" height="216.6" fill="#efefef" stroke="#a6a6a6" stroke-width="1.6"/>
<text x="596.3" y="475.4" font-family="Liberation Serif" font-weight="bold" font-size="10.9" text-anchor="middle" fill="#111" stroke="#111" stroke-width="0.3">LTCR of PETs in Lavash Flour - Adults</text>
<rect x="431.3" y="482.3" width="325.4" height="179.3" fill="#fefef2" stroke="#c6c6c2" stroke-width="1.1"/>
<line x1="428.3" y1="661.7" x2="759.7" y2="661.7" stroke="#c9c9bd" stroke-width="1.1"/>
<text x="427.6" y="669.7" font-family="Liberation Serif" font-weight="bold" font-size="8.0" text-anchor="end" fill="#151515" stroke="#151515" stroke-width="0.2">0.00</text>
<text x="767.4" y="667.4" font-family="Liberation Serif" font-weight="bold" font-size="8.0" text-anchor="middle" fill="#151515" stroke="#151515" stroke-width="0.2">0</text>
<line x1="428.3" y1="635.7" x2="759.7" y2="635.7" stroke="#c9c9bd" stroke-width="1.1"/>
<text x="427.6" y="642.7" font-family="Liberation Serif" font-weight="bold" font-size="8.0" text-anchor="end" fill="#151515" stroke="#151515" stroke-width="0.2">0.01</text>
<text x="767.4" y="640.7" font-family="Liberation Serif" font-weight="bold" font-size="8.0" text-anchor="middle" fill="#151515" stroke="#151515" stroke-width="0.2">100</text>
<line x1="428.3" y1="609.7" x2="759.7" y2="609.7" stroke="#c9c9bd" stroke-width="1.1"/>
<text x="427.6" y="615.3" font-family="Liberation Serif" font-weight="bold" font-size="8.0" text-anchor="end" fill="#151515" stroke="#151515" stroke-width="0.2">0.02</text>
<text x="767.4" y="613.9" font-family="Liberation Serif" font-weight="bold" font-size="8.0" text-anchor="middle" fill="#151515" stroke="#151515" stroke-width="0.2">200</text>
<line x1="428.3" y1="583.7" x2="759.7" y2="583.7" stroke="#c9c9bd" stroke-width="1.1"/>
<text x="427.6" y="588.1" font-family="Liberation Serif" font-weight="bold" font-size="8.0" text-anchor="end" fill="#151515" stroke="#151515" stroke-width="0.2">0.03</text>
<text x="767.4" y="587.8" font-family="Liberation Serif" font-weight="bold" font-size="8.0" text-anchor="middle" fill="#151515" stroke="#151515" stroke-width="0.2">300</text>
<line x1="428.3" y1="557.7" x2="759.7" y2="557.7" stroke="#c9c9bd" stroke-width="1.1"/>
<text x="427.6" y="561.4" font-family="Liberation Serif" font-weight="bold" font-size="8.0" text-anchor="end" fill="#151515" stroke="#151515" stroke-width="0.2">0.04</text>
<text x="767.4" y="561.4" font-family="Liberation Serif" font-weight="bold" font-size="8.0" text-anchor="middle" fill="#151515" stroke="#151515" stroke-width="0.2">400</text>
<line x1="428.3" y1="531.7" x2="759.7" y2="531.7" stroke="#c9c9bd" stroke-width="1.1"/>
<text x="427.6" y="534.3" font-family="Liberation Serif" font-weight="bold" font-size="8.0" text-anchor="end" fill="#151515" stroke="#151515" stroke-width="0.2">0.06</text>
<text x="767.4" y="534.7" font-family="Liberation Serif" font-weight="bold" font-size="8.0" text-anchor="middle" fill="#151515" stroke="#151515" stroke-width="0.2">500</text>
<line x1="428.3" y1="505.7" x2="759.7" y2="505.7" stroke="#c9c9bd" stroke-width="1.1"/>
<text x="427.6" y="507.3" font-family="Liberation Serif" font-weight="bold" font-size="8.0" text-anchor="end" fill="#151515" stroke="#151515" stroke-width="0.2">0.08</text>
<text x="767.4" y="508" font-family="Liberation Serif" font-weight="bold" font-size="8.0" text-anchor="middle" fill="#151515" stroke="#151515" stroke-width="0.2">600</text>
<text transform="translate(405.3,572.3) rotate(-90)" x="0" y="2.94" font-family="Liberation Serif" font-weight="bold" font-size="8.9" text-anchor="middle" fill="#151515" stroke="#151515" stroke-width="0.2">Probability</text>
<text transform="translate(780,573) rotate(90)" x="0" y="3" font-family="Liberation Serif" font-weight="bold" font-size="9.1" text-anchor="middle" fill="#151515" stroke="#151515" stroke-width="0.2">Frequency</text>
<rect x="438.7" y="659.93" width="5.07" height="1.57" fill="#fa7f6f"/>
<rect x="438.7" y="659.93" width="0.9" height="1.57" fill="#fb9a8a"/>
<rect x="443.77" y="646.71" width="5.07" height="14.79" fill="#fa7f6f"/>
<rect x="443.77" y="646.71" width="0.9" height="14.79" fill="#fb9a8a"/>
<rect x="448.84" y="628.6" width="5.07" height="32.9" fill="#fa7f6f"/>
<rect x="448.84" y="628.6" width="0.9" height="32.9" fill="#fb9a8a"/>
<rect x="453.92" y="576.89" width="5.07" height="84.61" fill="#fa7f6f"/>
<rect x="453.92" y="576.89" width="0.9" height="84.61" fill="#fb9a8a"/>
<rect x="458.99" y="546.43" width="5.07" height="115.07" fill="#000c7c"/>
<rect x="458.99" y="546.43" width="0.9" height="115.07" fill="#3a2e9e"/>
<rect x="464.06" y="525.87" width="5.07" height="135.63" fill="#000c7c"/>
<rect x="464.06" y="525.87" width="0.9" height="135.63" fill="#3a2e9e"/>
<rect x="469.13" y="496.2" width="5.07" height="165.3" fill="#000c7c"/>
<rect x="469.13" y="496.2" width="0.9" height="165.3" fill="#3a2e9e"/>
<rect x="474.2" y="491.01" width="5.07" height="170.49" fill="#000c7c"/>
<rect x="474.2" y="491.01" width="0.9" height="170.49" fill="#3a2e9e"/>
<rect x="479.28" y="500.21" width="5.07" height="161.29" fill="#000c7c"/>
<rect x="479.28" y="500.21" width="0.9" height="161.29" fill="#3a2e9e"/>
<rect x="484.35" y="495.51" width="5.07" height="165.99" fill="#000c7c"/>
<rect x="484.35" y="495.51" width="0.9" height="165.99" fill="#3a2e9e"/>
<rect x="489.42" y="510.59" width="5.07" height="150.91" fill="#000c7c"/>
<rect x="489.42" y="510.59" width="0.9" height="150.91" fill="#3a2e9e"/>
<rect x="494.49" y="521.27" width="5.07" height="140.23" fill="#000c7c"/>
<rect x="494.49" y="521.27" width="0.9" height="140.23" fill="#3a2e9e"/>
<rect x="499.56" y="523.62" width="5.07" height="137.88" fill="#000c7c"/>
<rect x="499.56" y="523.62" width="0.9" height="137.88" fill="#3a2e9e"/>
<rect x="504.64" y="552.8" width="5.07" height="108.7" fill="#000c7c"/>
<rect x="504.64" y="552.8" width="0.9" height="108.7" fill="#3a2e9e"/>
<rect x="509.71" y="572.68" width="5.07" height="88.82" fill="#000c7c"/>
<rect x="509.71" y="572.68" width="0.9" height="88.82" fill="#3a2e9e"/>
<rect x="514.78" y="569.74" width="5.07" height="91.76" fill="#000c7c"/>
<rect x="514.78" y="569.74" width="0.9" height="91.76" fill="#3a2e9e"/>
<rect x="519.85" y="572.39" width="5.07" height="89.11" fill="#000c7c"/>
<rect x="519.85" y="572.39" width="0.9" height="89.11" fill="#3a2e9e"/>
<rect x="524.92" y="594.42" width="5.07" height="67.08" fill="#000c7c"/>
<rect x="524.92" y="594.42" width="0.9" height="67.08" fill="#3a2e9e"/>
<rect x="530" y="602.74" width="5.07" height="58.76" fill="#000c7c"/>
<rect x="530" y="602.74" width="0.9" height="58.76" fill="#3a2e9e"/>
<rect x="535.07" y="605.68" width="5.07" height="55.82" fill="#000c7c"/>
<rect x="535.07" y="605.68" width="0.9" height="55.82" fill="#3a2e9e"/>
<rect x="540.14" y="611.26" width="5.07" height="50.24" fill="#000c7c"/>
<rect x="540.14" y="611.26" width="0.9" height="50.24" fill="#3a2e9e"/>
<rect x="545.21" y="616.16" width="5.07" height="45.34" fill="#000c7c"/>
<rect x="545.21" y="616.16" width="0.9" height="45.34" fill="#3a2e9e"/>
<rect x="550.28" y="622.03" width="5.07" height="39.47" fill="#000c7c"/>
<rect x="550.28" y="622.03" width="0.9" height="39.47" fill="#3a2e9e"/>
<rect x="555.36" y="629.58" width="5.07" height="31.92" fill="#000c7c"/>
<rect x="555.36" y="629.58" width="0.9" height="31.92" fill="#3a2e9e"/>
<rect x="560.43" y="631.83" width="5.07" height="29.67" fill="#000c7c"/>
<rect x="560.43" y="631.83" width="0.9" height="29.67" fill="#3a2e9e"/>
<rect x="565.5" y="634.28" width="5.07" height="27.22" fill="#000c7c"/>
<rect x="565.5" y="634.28" width="0.9" height="27.22" fill="#3a2e9e"/>
<rect x="570.57" y="634.28" width="5.07" height="27.22" fill="#000c7c"/>
<rect x="570.57" y="634.28" width="0.9" height="27.22" fill="#3a2e9e"/>
<rect x="575.64" y="641.91" width="5.07" height="19.59" fill="#000c7c"/>
<rect x="575.64" y="641.91" width="0.9" height="19.59" fill="#3a2e9e"/>
<rect x="580.72" y="641.23" width="5.07" height="20.27" fill="#000c7c"/>
<rect x="580.72" y="641.23" width="0.9" height="20.27" fill="#3a2e9e"/>
<rect x="585.79" y="648.38" width="5.07" height="13.12" fill="#000c7c"/>
<rect x="585.79" y="648.38" width="0.9" height="13.12" fill="#3a2e9e"/>
<rect x="590.86" y="649.65" width="5.07" height="11.85" fill="#000c7c"/>
<rect x="590.86" y="649.65" width="0.9" height="11.85" fill="#3a2e9e"/>
<rect x="595.93" y="649.65" width="5.07" height="11.85" fill="#000c7c"/>
<rect x="595.93" y="649.65" width="0.9" height="11.85" fill="#3a2e9e"/>
<rect x="601" y="647.69" width="5.07" height="13.81" fill="#000c7c"/>
<rect x="601" y="647.69" width="0.9" height="13.81" fill="#3a2e9e"/>
<rect x="606.08" y="647.69" width="5.07" height="13.81" fill="#000c7c"/>
<rect x="606.08" y="647.69" width="0.9" height="13.81" fill="#3a2e9e"/>
<rect x="611.15" y="649.65" width="5.07" height="11.85" fill="#000c7c"/>
<rect x="611.15" y="649.65" width="0.9" height="11.85" fill="#3a2e9e"/>
<rect x="616.22" y="651.61" width="5.07" height="9.89" fill="#000c7c"/>
<rect x="616.22" y="651.61" width="0.9" height="9.89" fill="#3a2e9e"/>
<rect x="621.29" y="650.92" width="5.07" height="10.58" fill="#000c7c"/>
<rect x="621.29" y="650.92" width="0.9" height="10.58" fill="#3a2e9e"/>
<rect x="626.36" y="650.43" width="5.07" height="11.07" fill="#000c7c"/>
<rect x="626.36" y="650.43" width="0.9" height="11.07" fill="#3a2e9e"/>
<rect x="631.44" y="654.84" width="5.07" height="6.66" fill="#000c7c"/>
<rect x="631.44" y="654.84" width="0.9" height="6.66" fill="#3a2e9e"/>
<rect x="636.51" y="651.9" width="5.07" height="9.6" fill="#000c7c"/>
<rect x="636.51" y="651.9" width="0.9" height="9.6" fill="#3a2e9e"/>
<rect x="641.58" y="656.8" width="5.07" height="4.7" fill="#000c7c"/>
<rect x="641.58" y="656.8" width="0.9" height="4.7" fill="#3a2e9e"/>
<rect x="646.65" y="652.69" width="5.07" height="8.81" fill="#fa7f6f"/>
<rect x="646.65" y="652.69" width="0.9" height="8.81" fill="#fb9a8a"/>
<rect x="651.72" y="655.33" width="5.07" height="6.17" fill="#fa7f6f"/>
<rect x="651.72" y="655.33" width="0.9" height="6.17" fill="#fb9a8a"/>
<rect x="656.8" y="657.09" width="5.07" height="4.41" fill="#fa7f6f"/>
<rect x="656.8" y="657.09" width="0.9" height="4.41" fill="#fb9a8a"/>
<rect x="661.87" y="657.09" width="5.07" height="4.41" fill="#fa7f6f"/>
<rect x="661.87" y="657.09" width="0.9" height="4.41" fill="#fb9a8a"/>
<rect x="666.94" y="657.58" width="5.07" height="3.92" fill="#fa7f6f"/>
<rect x="666.94" y="657.58" width="0.9" height="3.92" fill="#fb9a8a"/>
<rect x="672.01" y="658.27" width="5.07" height="3.23" fill="#fa7f6f"/>
<rect x="672.01" y="658.27" width="0.9" height="3.23" fill="#fb9a8a"/>
<rect x="677.08" y="659.44" width="5.07" height="2.06" fill="#fa7f6f"/>
<rect x="677.08" y="659.44" width="0.9" height="2.06" fill="#fb9a8a"/>
<rect x="682.16" y="657.58" width="5.07" height="3.92" fill="#fa7f6f"/>
<rect x="682.16" y="657.58" width="0.9" height="3.92" fill="#fb9a8a"/>
<rect x="687.23" y="657.58" width="5.07" height="3.92" fill="#fa7f6f"/>
<rect x="687.23" y="657.58" width="0.9" height="3.92" fill="#fb9a8a"/>
<rect x="692.3" y="658.27" width="5.07" height="3.23" fill="#fa7f6f"/>
<rect x="692.3" y="658.27" width="0.9" height="3.23" fill="#fb9a8a"/>
<rect x="697.37" y="658.27" width="5.07" height="3.23" fill="#fa7f6f"/>
<rect x="697.37" y="658.27" width="0.9" height="3.23" fill="#fb9a8a"/>
<rect x="702.44" y="658.27" width="5.07" height="3.23" fill="#fa7f6f"/>
<rect x="702.44" y="658.27" width="0.9" height="3.23" fill="#fb9a8a"/>
<rect x="707.52" y="659.44" width="5.07" height="2.06" fill="#fa7f6f"/>
<rect x="707.52" y="659.44" width="0.9" height="2.06" fill="#fb9a8a"/>
<rect x="712.59" y="660.03" width="5.07" height="1.47" fill="#fa7f6f"/>
<rect x="712.59" y="660.03" width="0.9" height="1.47" fill="#fb9a8a"/>
<rect x="717.66" y="660.52" width="5.07" height="0.98" fill="#fa7f6f"/>
<rect x="717.66" y="660.52" width="0.9" height="0.98" fill="#fb9a8a"/>
<rect x="722.73" y="660.03" width="5.07" height="1.47" fill="#fa7f6f"/>
<rect x="722.73" y="660.03" width="0.9" height="1.47" fill="#fb9a8a"/>
<rect x="727.8" y="660.03" width="5.07" height="1.47" fill="#fa7f6f"/>
<rect x="727.8" y="660.03" width="0.9" height="1.47" fill="#fb9a8a"/>
<rect x="732.88" y="660.03" width="5.07" height="1.47" fill="#fa7f6f"/>
<rect x="732.88" y="660.03" width="0.9" height="1.47" fill="#fb9a8a"/>
<rect x="737.95" y="660.03" width="5.07" height="1.47" fill="#fa7f6f"/>
<rect x="737.95" y="660.03" width="0.9" height="1.47" fill="#fb9a8a"/>
<rect x="743.02" y="660.52" width="5.07" height="0.98" fill="#fa7f6f"/>
<rect x="743.02" y="660.52" width="0.9" height="0.98" fill="#fb9a8a"/>
<line x1="501.3" y1="661.6" x2="501.3" y2="664.1" stroke="#999" stroke-width="0.8"/>
<text x="501.3" y="672.8" font-family="Liberation Sans" font-size="6.35" text-anchor="middle" fill="#34344c">1.00E-3</text>
<line x1="578.6" y1="661.6" x2="578.6" y2="664.1" stroke="#999" stroke-width="0.8"/>
<text x="578.6" y="672.8" font-family="Liberation Sans" font-size="6.35" text-anchor="middle" fill="#34344c">2.00E-3</text>
<line x1="655.9" y1="661.6" x2="655.9" y2="664.1" stroke="#999" stroke-width="0.8"/>
<text x="655.9" y="672.8" font-family="Liberation Sans" font-size="6.35" text-anchor="middle" fill="#34344c">3.00E-3</text>
<line x1="733.2" y1="661.6" x2="733.2" y2="664.1" stroke="#999" stroke-width="0.8"/>
<text x="733.2" y="672.8" font-family="Liberation Sans" font-size="6.35" text-anchor="middle" fill="#34344c">4.00E-3</text>
<line x1="458.6" y1="483.3" x2="458.6" y2="661.6" stroke="#1c1434" stroke-width="1.75"/>
<line x1="519.3" y1="483.3" x2="519.3" y2="661.6" stroke="#1c1434" stroke-width="1.75"/>
<line x1="647" y1="483.3" x2="647" y2="661.6" stroke="#1c1434" stroke-width="1.75"/>
<path d="M452.7,657.45 L457.3,661.8 L452.7,666.15 Z" fill="#5e6266" stroke="#3c3f42" stroke-width="0.5"/>
<path d="M653.2,657.45 L648.8,661.8 L653.2,666.15 Z" fill="#6a6e72" stroke="#3c3f42" stroke-width="0.5"/>
<rect x="460.05" y="623.35" width="58.4" height="15.6" fill="#fff" stroke="#111" stroke-width="1.25"/>
<line x1="458.6" y1="631.15" x2="459.8" y2="631.15" stroke="#111" stroke-width="1.2"/>
<text x="489.25" y="634.71" font-family="Liberation Serif" font-weight="bold" font-size="10.8" text-anchor="middle" fill="#000" stroke="#000" stroke-width="0.35">5%=4.47E-4</text>
<rect x="522.15" y="611.95" width="68" height="16" fill="#fff" stroke="#111" stroke-width="1.25"/>
<line x1="519.3" y1="619.95" x2="521.9" y2="619.95" stroke="#111" stroke-width="1.2"/>
<text x="556.15" y="623.07" font-family="Liberation Serif" font-weight="bold" font-size="9.45" text-anchor="middle" fill="#000" stroke="#000" stroke-width="0.35">Mean = 1.23E-3</text>
<rect x="649.55" y="602.95" width="57.6" height="16" fill="#fff" stroke="#111" stroke-width="1.25"/>
<line x1="647" y1="610.95" x2="649.3" y2="610.95" stroke="#111" stroke-width="1.2"/>
<text x="678.35" y="614.12" font-family="Liberation Serif" font-weight="bold" font-size="9.6" text-anchor="middle" fill="#000" stroke="#000" stroke-width="0.35">95%=2.88E-3</text>
</g></svg>
</div></body></html>
